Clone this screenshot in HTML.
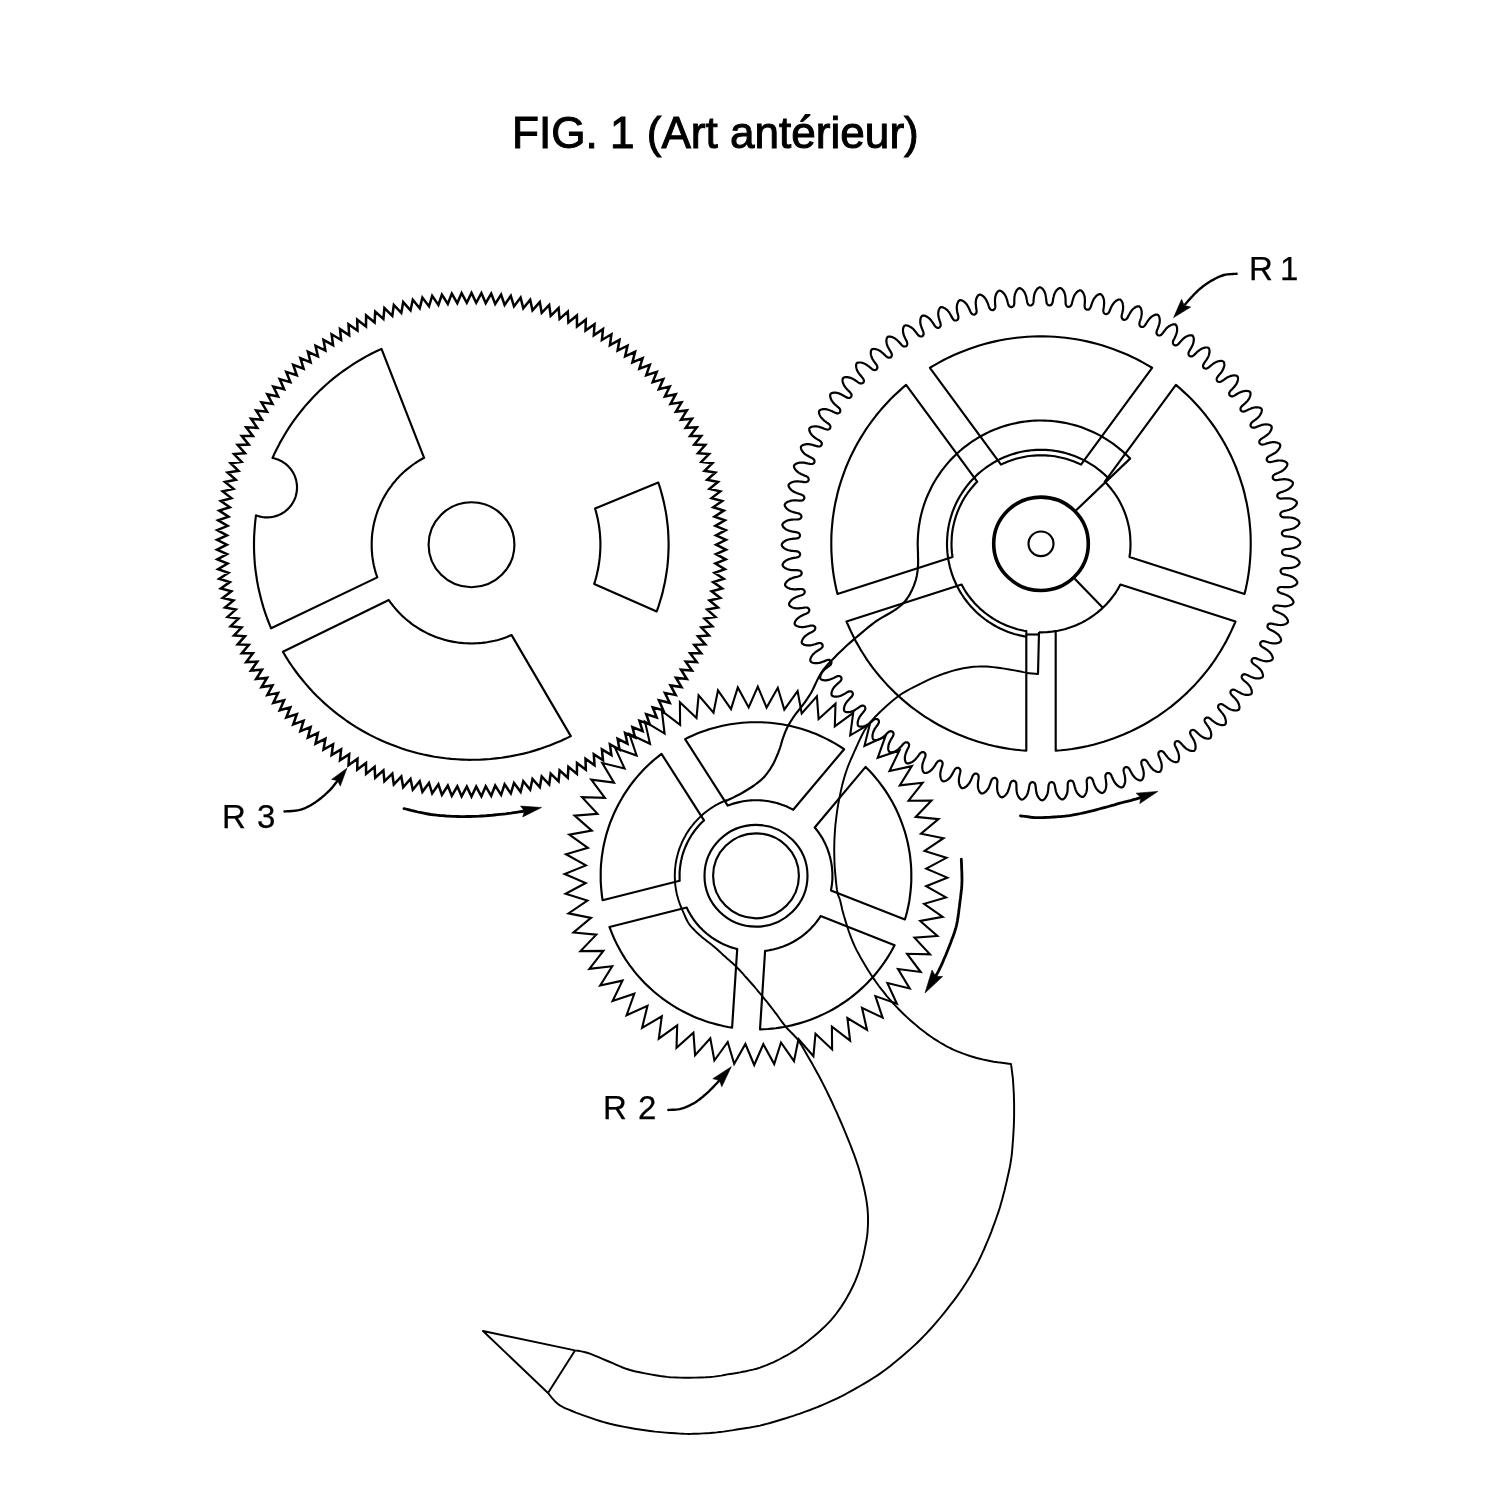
<!DOCTYPE html>
<html><head><meta charset="utf-8"><title>FIG. 1</title>
<style>
html,body{margin:0;padding:0;background:#fff;}
body{width:1500px;height:1500px;position:relative;overflow:hidden;font-family:"Liberation Sans",sans-serif;color:#000;}
svg{position:absolute;left:0;top:0;}
.t{position:absolute;white-space:nowrap;line-height:1;will-change:transform;}
.l{font-size:33px;-webkit-text-stroke:0.25px #000;}
</style></head><body>
<svg width="1500" height="1500" viewBox="0 0 1500 1500" fill="none" stroke="#000" stroke-linejoin="round" stroke-linecap="butt">
<path d="M471.5 292.9L476.2 302.8L481.4 293.1L485.7 303.1L491.2 293.6L495.2 303.9L501.1 294.6L504.6 305.0L510.8 295.9L514.0 306.4L520.6 297.6L523.3 308.2L530.2 299.7L532.5 310.4L539.8 302.1L541.7 312.9L549.2 304.9L550.7 315.8L558.6 308.1L559.6 319.0L567.8 311.6L568.4 322.5L576.9 315.5L577.0 326.4L585.8 319.7L585.5 330.6L594.5 324.2L593.8 335.2L603.0 329.1L601.9 340.0L611.4 334.3L609.9 345.2L619.5 339.8L617.6 350.6L627.5 345.7L625.1 356.4L635.1 351.8L632.4 362.4L642.6 358.2L639.4 368.7L649.8 364.9L646.2 375.3L656.7 371.9L652.7 382.1L663.3 379.1L658.9 389.2L669.7 386.6L664.9 396.5L675.7 394.3L670.5 404.0L681.5 402.3L675.9 411.7L686.9 410.4L681.0 419.7L692.0 418.8L685.7 427.8L696.8 427.3L690.1 436.1L701.2 436.1L694.2 444.6L705.3 445.0L698.0 453.2L709.0 454.0L701.4 461.9L712.4 463.2L704.5 470.8L715.4 472.5L707.2 479.8L718.0 481.9L709.5 488.9L720.3 491.4L711.6 498.1L722.2 501.0L713.2 507.3L723.8 510.6L714.5 516.6L724.9 520.3L715.4 525.9L725.7 530.1L716.0 535.3L726.0 539.8L716.1 544.7L726.0 549.6L716.0 554.1L725.7 559.3L715.4 563.5L724.9 569.1L714.5 572.8L723.8 578.8L713.2 582.1L722.2 588.4L711.6 591.3L720.3 598.0L709.5 600.5L718.0 607.5L707.2 609.6L715.4 616.9L704.5 618.6L712.4 626.2L701.4 627.5L709.0 635.4L698.0 636.2L705.3 644.4L694.2 644.8L701.2 653.3L690.1 653.3L696.8 662.1L685.7 661.6L692.0 670.6L681.0 669.7L686.9 679.0L675.9 677.7L681.5 687.1L670.5 685.4L675.7 695.1L664.9 692.9L669.7 702.8L658.9 700.2L663.3 710.3L652.7 707.3L656.7 717.5L646.2 714.1L649.8 724.5L639.4 720.7L642.6 731.2L632.4 727.0L635.1 737.6L625.1 733.0L627.5 743.7L617.6 738.8L619.5 749.6L609.9 744.2L611.4 755.1L601.9 749.4L603.0 760.3L593.8 754.2L594.5 765.2L585.5 758.8L585.8 769.7L577.0 763.0L576.9 773.9L568.4 766.9L567.8 777.8L559.6 770.4L558.6 781.3L550.7 773.6L549.2 784.5L541.7 776.5L539.8 787.3L532.5 779.0L530.2 789.7L523.3 781.2L520.6 791.8L514.0 783.0L510.8 793.5L504.6 784.4L501.1 794.8L495.2 785.5L491.2 795.8L485.7 786.3L481.4 796.3L476.2 786.6L471.5 796.5L466.8 786.6L461.6 796.3L457.3 786.3L451.8 795.8L447.8 785.5L441.9 794.8L438.4 784.4L432.2 793.5L429.0 783.0L422.4 791.8L419.7 781.2L412.8 789.7L410.5 779.0L403.2 787.3L401.3 776.5L393.8 784.5L392.3 773.6L384.4 781.3L383.4 770.4L375.2 777.8L374.6 766.9L366.1 773.9L366.0 763.0L357.2 769.7L357.5 758.8L348.5 765.2L349.2 754.2L340.0 760.3L341.1 749.4L331.6 755.1L333.1 744.2L323.5 749.6L325.4 738.8L315.5 743.7L317.9 733.0L307.9 737.6L310.6 727.0L300.4 731.2L303.6 720.7L293.2 724.5L296.8 714.1L286.3 717.5L290.3 707.3L279.7 710.3L284.1 700.2L273.3 702.8L278.1 692.9L267.3 695.1L272.5 685.4L261.5 687.1L267.1 677.7L256.1 679.0L262.0 669.7L251.0 670.6L257.3 661.6L246.2 662.1L252.9 653.3L241.8 653.3L248.8 644.8L237.7 644.4L245.0 636.2L234.0 635.4L241.6 627.5L230.6 626.2L238.5 618.6L227.6 616.9L235.8 609.6L225.0 607.5L233.5 600.5L222.7 598.0L231.4 591.3L220.8 588.4L229.8 582.1L219.2 578.8L228.5 572.8L218.1 569.1L227.6 563.5L217.3 559.3L227.0 554.1L217.0 549.6L226.9 544.7L217.0 539.8L227.0 535.3L217.3 530.1L227.6 525.9L218.1 520.3L228.5 516.6L219.2 510.6L229.8 507.3L220.8 501.0L231.4 498.1L222.7 491.4L233.5 488.9L225.0 481.9L235.8 479.8L227.6 472.5L238.5 470.8L230.6 463.2L241.6 461.9L234.0 454.0L245.0 453.2L237.7 445.0L248.8 444.6L241.8 436.1L252.9 436.1L246.2 427.3L257.3 427.8L251.0 418.8L262.0 419.7L256.1 410.4L267.1 411.7L261.5 402.3L272.5 404.0L267.3 394.3L278.1 396.5L273.3 386.6L284.1 389.2L279.7 379.1L290.3 382.1L286.3 371.9L296.8 375.3L293.2 364.9L303.6 368.7L300.4 358.2L310.6 362.4L307.9 351.8L317.9 356.4L315.5 345.7L325.4 350.6L323.5 339.8L333.1 345.2L331.6 334.3L341.1 340.0L340.0 329.1L349.2 335.2L348.5 324.2L357.5 330.6L357.2 319.7L366.0 326.4L366.1 315.5L374.6 322.5L375.2 311.6L383.4 319.0L384.4 308.1L392.3 315.8L393.8 304.9L401.3 312.9L403.2 302.1L410.5 310.4L412.8 299.7L419.7 308.2L422.4 297.6L429.0 306.4L432.2 295.9L438.4 305.0L441.9 294.6L447.8 303.9L451.8 293.6L457.3 303.1L461.6 293.1L466.8 302.8Z" stroke-width="2.50" stroke-linejoin="miter"/>
<ellipse cx="471.5" cy="544.7" rx="42.9" ry="42.5" stroke-width="2.15"/>
<path d="M381.5 348.9L376.4 351.3L371.3 353.8L366.3 356.4L361.4 359.2L356.5 362.1L351.8 365.1L347.1 368.3L342.5 371.5L338.0 374.9L333.5 378.4L329.2 382.0L325.0 385.7L320.8 389.6L316.8 393.5L312.9 397.5L309.1 401.7L305.3 405.9L301.8 410.2L298.3 414.6L294.9 419.1L291.7 423.7L288.5 428.4L285.5 433.2L282.7 438.0L279.9 442.9L277.3 447.9L274.8 452.9L272.5 458.0L272.5 458.0L273.3 458.2L274.0 458.3L274.8 458.5L275.5 458.7L276.3 459.0L277.0 459.2L277.8 459.5L278.5 459.8L279.2 460.1L279.9 460.4L280.6 460.8L281.3 461.1L282.0 461.5L282.7 461.9L283.3 462.3L284.0 462.8L284.6 463.2L285.3 463.7L285.9 464.2L286.5 464.7L287.1 465.2L287.6 465.7L288.2 466.2L288.7 466.8L289.3 467.4L289.8 468.0L290.3 468.6L290.8 469.2L291.3 469.8L291.7 470.4L292.1 471.1L292.6 471.8L293.0 472.4L293.3 473.1L293.7 473.8L294.1 474.5L294.4 475.2L294.7 475.9L295.0 476.7L295.3 477.4L295.5 478.1L295.7 478.9L296.0 479.6L296.2 480.4L296.3 481.2L296.5 481.9L296.6 482.7L296.7 483.5L296.8 484.2L296.9 485.0L297.0 485.8L297.0 486.6L297.0 487.4L297.0 488.2L297.0 488.9L296.9 489.7L296.8 490.5L296.8 491.3L296.6 492.0L296.5 492.8L296.4 493.6L296.2 494.4L296.0 495.1L295.8 495.9L295.6 496.6L295.3 497.4L295.1 498.1L294.8 498.8L294.5 499.5L294.1 500.3L293.8 501.0L293.4 501.6L293.0 502.3L292.7 503.0L292.2 503.7L291.8 504.3L291.4 505.0L290.9 505.6L290.4 506.2L289.9 506.8L289.4 507.4L288.9 508.0L288.3 508.5L287.8 509.1L287.2 509.6L286.6 510.1L286.0 510.7L285.4 511.1L284.8 511.6L284.1 512.1L283.5 512.5L282.8 512.9L282.2 513.3L281.5 513.7L280.8 514.1L280.1 514.4L279.4 514.8L278.7 515.1L277.9 515.4L277.2 515.6L276.5 515.9L275.7 516.1L275.0 516.4L274.2 516.5L273.4 516.7L272.7 516.9L271.9 517.0L271.1 517.1L270.4 517.2L269.6 517.3L268.8 517.4L268.0 517.4L267.2 517.4L266.4 517.4L265.7 517.4L264.9 517.3L264.1 517.3L263.3 517.2L262.5 517.1L261.8 517.0L261.0 516.8L260.2 516.6L259.5 516.4L258.7 516.2L258.0 516.0L257.2 515.8L256.5 515.5L256.0 515.4L255.3 520.9L254.8 526.3L254.4 531.8L254.1 537.3L254.0 542.8L254.0 548.3L254.2 553.7L254.5 559.2L254.9 564.7L255.5 570.1L256.3 575.6L257.1 581.0L258.1 586.4L259.3 591.7L260.6 597.1L262.0 602.4L263.5 607.6L265.2 612.9L267.0 618.0L269.0 623.2L271.1 628.3L377.3 577.4L376.5 575.0L375.7 572.6L375.0 570.1L374.4 567.7L373.8 565.2L373.3 562.7L372.9 560.2L372.5 557.7L372.2 555.2L372.0 552.6L371.8 550.1L371.7 547.6L371.7 545.0L371.7 542.5L371.8 539.9L371.9 537.4L372.1 534.9L372.4 532.4L372.8 529.8L373.2 527.3L373.7 524.8L374.2 522.4L374.9 519.9L375.5 517.4L376.3 515.0L377.1 512.6L377.9 510.2L378.9 507.8L379.9 505.5L380.9 503.2L382.0 500.9L383.2 498.6L384.4 496.4L385.7 494.2L387.0 492.0L388.4 489.9L389.9 487.8L391.4 485.8L392.9 483.7L394.6 481.8L396.2 479.8L397.9 477.9L399.7 476.1L401.5 474.3L403.3 472.5L405.2 470.8L407.2 469.2L409.2 467.6L411.2 466.0L413.3 464.5L415.4 463.0L417.5 461.6L419.7 460.3L421.9 459.0L424.1 457.8Z" stroke-width="2.15" />
<path d="M388.8 600.0L390.2 602.1L391.8 604.1L393.3 606.1L395.0 608.1L396.6 610.0L398.4 611.9L400.1 613.8L401.9 615.6L403.8 617.3L405.7 619.0L407.7 620.6L409.7 622.2L411.7 623.8L413.8 625.3L415.9 626.7L418.1 628.1L420.3 629.5L422.5 630.7L424.7 631.9L427.0 633.1L429.3 634.2L431.7 635.3L434.0 636.2L436.4 637.2L438.9 638.0L441.3 638.8L443.8 639.6L446.2 640.2L448.7 640.9L451.2 641.4L453.8 641.9L456.3 642.3L458.8 642.7L461.4 642.9L464.0 643.2L466.5 643.3L469.1 643.4L471.7 643.5L474.2 643.4L476.8 643.3L479.4 643.1L481.9 642.9L484.5 642.6L487.0 642.3L489.5 641.8L492.1 641.3L494.6 640.8L497.1 640.2L499.5 639.5L502.0 638.7L504.4 637.9L506.9 637.1L509.2 636.1L511.6 635.1L570.8 736.1L565.8 738.6L560.7 740.9L555.5 743.1L550.3 745.2L545.1 747.1L539.8 748.9L534.4 750.6L529.0 752.2L523.6 753.6L518.1 754.8L512.6 755.9L507.1 756.9L501.5 757.8L495.9 758.4L490.4 759.0L484.8 759.4L479.1 759.7L473.5 759.8L467.9 759.8L462.3 759.6L456.7 759.3L451.1 758.9L445.5 758.3L439.9 757.5L434.4 756.7L428.9 755.6L423.4 754.5L417.9 753.2L412.5 751.7L407.1 750.2L401.8 748.5L396.5 746.6L391.2 744.6L386.0 742.5L380.9 740.3L375.8 737.9L370.8 735.4L365.9 732.7L361.0 730.0L356.2 727.1L351.5 724.1L346.8 721.0L342.3 717.7L337.8 714.4L333.4 710.9L329.1 707.3L324.9 703.6L320.8 699.8L316.8 695.9L312.9 691.9L309.1 687.8L305.5 683.6L301.9 679.3L298.4 675.0L295.1 670.5L291.9 666.0L288.7 661.3L285.8 656.6L282.9 651.8Z" stroke-width="2.15" />
<path d="M594.2 583.9L595.2 580.7L596.1 577.5L596.9 574.3L597.6 571.0L598.3 567.8L598.8 564.5L599.3 561.2L599.7 557.9L600.0 554.6L600.2 551.2L600.4 547.9L600.4 544.6L600.4 541.3L600.2 537.9L600.0 534.6L599.7 531.3L599.3 528.0L598.8 524.7L598.2 521.4L597.6 518.2L596.8 514.9L596.0 511.7L595.1 508.5L658.3 482.5L659.9 487.3L661.3 492.2L662.6 497.1L663.8 502.0L664.8 506.9L665.8 511.9L666.6 516.9L667.2 521.9L667.8 526.9L668.2 531.9L668.4 537.0L668.6 542.0L668.6 547.1L668.4 552.1L668.2 557.2L667.8 562.2L667.3 567.2L666.6 572.2L665.8 577.2L664.9 582.2L663.8 587.1L662.7 592.1L661.4 596.9L659.9 601.8L658.4 606.6L656.7 611.4Z" stroke-width="2.15" />
<path d="M1030.5 305.5L1031.1 305.4L1031.7 305.1L1032.2 304.8L1032.6 304.4L1032.9 303.9L1033.1 303.4L1033.3 302.8L1033.4 302.2L1033.5 301.5L1033.6 300.7L1033.6 299.9L1033.7 299.0L1033.8 298.0L1033.9 296.9L1034.1 296.0L1034.2 295.1L1034.4 294.3L1034.7 293.5L1034.9 292.7L1035.2 292.0L1035.6 291.4L1036.0 290.7L1036.4 290.0L1036.9 289.3L1037.3 288.8L1037.9 288.3L1038.4 287.9L1038.9 287.6L1039.4 287.4L1039.9 287.3L1040.4 287.4L1040.9 287.6L1041.4 287.9L1041.9 288.3L1042.4 288.8L1042.9 289.3L1043.4 289.9L1043.8 290.6L1044.2 291.3L1044.6 292.0L1044.9 292.7L1045.1 293.4L1045.4 294.2L1045.6 295.0L1045.7 295.9L1045.9 296.9L1046.0 297.9L1046.2 298.9L1046.2 299.8L1046.3 300.6L1046.4 301.4L1046.5 302.1L1046.6 302.7L1046.8 303.3L1047.0 303.8L1047.3 304.3L1047.7 304.7L1048.2 305.1L1048.8 305.3L1049.4 305.5L1050.0 305.4L1050.7 305.1L1051.2 304.8L1051.6 304.5L1051.9 304.0L1052.2 303.5L1052.4 302.9L1052.6 302.3L1052.7 301.6L1052.9 300.9L1053.0 300.0L1053.1 299.1L1053.3 298.2L1053.5 297.2L1053.8 296.2L1054.0 295.3L1054.3 294.5L1054.5 293.7L1054.9 293.0L1055.2 292.4L1055.6 291.7L1056.1 291.0L1056.5 290.4L1057.1 289.8L1057.6 289.3L1058.1 288.9L1058.7 288.5L1059.2 288.2L1059.7 288.1L1060.2 288.0L1060.7 288.1L1061.2 288.4L1061.7 288.7L1062.2 289.2L1062.6 289.7L1063.1 290.2L1063.5 290.9L1063.9 291.6L1064.2 292.3L1064.5 293.0L1064.8 293.8L1065.0 294.5L1065.1 295.3L1065.3 296.2L1065.4 297.0L1065.5 298.0L1065.5 299.1L1065.6 300.1L1065.6 301.0L1065.6 301.8L1065.6 302.6L1065.6 303.3L1065.7 303.9L1065.8 304.5L1066.0 305.0L1066.3 305.5L1066.6 306.0L1067.1 306.4L1067.7 306.7L1068.3 306.9L1068.9 306.8L1069.6 306.6L1070.1 306.4L1070.6 306.0L1070.9 305.6L1071.2 305.1L1071.5 304.6L1071.7 303.9L1071.9 303.3L1072.1 302.5L1072.3 301.7L1072.5 300.8L1072.8 299.9L1073.1 298.9L1073.4 297.9L1073.7 297.1L1074.0 296.3L1074.3 295.6L1074.7 294.9L1075.1 294.2L1075.6 293.6L1076.1 293.0L1076.6 292.4L1077.2 291.8L1077.7 291.4L1078.3 291.0L1078.9 290.7L1079.4 290.4L1079.9 290.3L1080.4 290.3L1080.9 290.5L1081.4 290.7L1081.8 291.1L1082.3 291.6L1082.7 292.1L1083.1 292.7L1083.5 293.4L1083.8 294.2L1084.1 294.9L1084.3 295.6L1084.5 296.4L1084.7 297.1L1084.8 298.0L1084.8 298.8L1084.9 299.7L1084.9 300.7L1084.9 301.7L1084.8 302.7L1084.8 303.6L1084.7 304.4L1084.6 305.2L1084.6 305.9L1084.7 306.6L1084.7 307.2L1084.9 307.7L1085.1 308.2L1085.4 308.7L1085.9 309.1L1086.4 309.5L1087.0 309.7L1087.6 309.7L1088.3 309.6L1088.9 309.4L1089.3 309.0L1089.7 308.6L1090.1 308.2L1090.4 307.7L1090.6 307.1L1090.9 306.4L1091.2 305.7L1091.4 304.9L1091.7 304.0L1092.0 303.1L1092.4 302.1L1092.8 301.2L1093.1 300.4L1093.5 299.6L1093.9 298.9L1094.4 298.3L1094.8 297.7L1095.3 297.1L1095.8 296.5L1096.4 295.9L1097.0 295.4L1097.6 295.0L1098.2 294.6L1098.8 294.4L1099.4 294.2L1099.9 294.1L1100.4 294.1L1100.9 294.3L1101.3 294.7L1101.8 295.1L1102.2 295.6L1102.6 296.1L1102.9 296.8L1103.2 297.5L1103.5 298.3L1103.7 299.0L1103.9 299.8L1104.0 300.5L1104.1 301.3L1104.1 302.1L1104.1 303.0L1104.1 303.9L1104.0 304.8L1103.9 305.9L1103.8 306.9L1103.7 307.7L1103.5 308.6L1103.4 309.3L1103.4 310.0L1103.3 310.7L1103.4 311.3L1103.5 311.8L1103.7 312.4L1103.9 312.9L1104.3 313.3L1104.9 313.7L1105.4 314.0L1106.1 314.1L1106.7 314.0L1107.3 313.8L1107.8 313.5L1108.2 313.1L1108.6 312.7L1109.0 312.2L1109.3 311.7L1109.6 311.0L1109.9 310.3L1110.2 309.5L1110.5 308.7L1110.9 307.8L1111.4 306.9L1111.8 306.0L1112.3 305.2L1112.7 304.5L1113.2 303.8L1113.7 303.2L1114.2 302.6L1114.7 302.0L1115.3 301.5L1115.9 301.0L1116.6 300.5L1117.2 300.2L1117.8 299.9L1118.4 299.6L1119.0 299.5L1119.6 299.5L1120.1 299.5L1120.5 299.8L1120.9 300.1L1121.3 300.6L1121.7 301.1L1122.0 301.7L1122.3 302.3L1122.6 303.1L1122.8 303.9L1122.9 304.7L1123.1 305.4L1123.1 306.2L1123.1 306.9L1123.1 307.8L1123.1 308.6L1123.0 309.5L1122.8 310.5L1122.6 311.5L1122.4 312.5L1122.2 313.3L1122.0 314.1L1121.8 314.9L1121.7 315.6L1121.6 316.2L1121.6 316.8L1121.7 317.4L1121.8 318.0L1122.1 318.5L1122.4 318.9L1122.9 319.4L1123.5 319.7L1124.1 319.8L1124.7 319.8L1125.4 319.6L1125.9 319.4L1126.3 319.1L1126.7 318.7L1127.1 318.2L1127.5 317.7L1127.8 317.1L1128.2 316.4L1128.6 315.6L1129.0 314.8L1129.5 314.0L1130.0 313.1L1130.5 312.2L1131.0 311.5L1131.5 310.8L1132.0 310.1L1132.5 309.5L1133.1 309.0L1133.7 308.5L1134.3 308.0L1135.0 307.5L1135.6 307.1L1136.3 306.8L1136.9 306.6L1137.6 306.4L1138.1 306.3L1138.7 306.3L1139.2 306.4L1139.6 306.7L1140.0 307.1L1140.4 307.5L1140.7 308.1L1141.0 308.7L1141.2 309.4L1141.4 310.2L1141.6 311.0L1141.7 311.8L1141.7 312.5L1141.7 313.3L1141.7 314.0L1141.6 314.9L1141.5 315.7L1141.3 316.6L1141.1 317.5L1140.8 318.6L1140.5 319.5L1140.2 320.4L1140.0 321.1L1139.7 321.9L1139.6 322.6L1139.4 323.2L1139.4 323.8L1139.4 324.4L1139.5 324.9L1139.7 325.4L1140.0 326.0L1140.5 326.4L1141.0 326.8L1141.6 327.0L1142.3 327.0L1142.9 326.9L1143.4 326.7L1143.9 326.4L1144.3 326.0L1144.8 325.6L1145.1 325.1L1145.6 324.5L1146.0 323.8L1146.4 323.1L1146.9 322.4L1147.4 321.5L1148.0 320.7L1148.6 319.9L1149.1 319.2L1149.7 318.5L1150.3 317.9L1150.8 317.4L1151.4 316.9L1152.0 316.4L1152.7 316.0L1153.4 315.6L1154.1 315.2L1154.8 314.9L1155.5 314.8L1156.1 314.6L1156.7 314.6L1157.2 314.6L1157.7 314.8L1158.1 315.1L1158.5 315.5L1158.8 316.0L1159.1 316.5L1159.3 317.2L1159.5 317.9L1159.6 318.7L1159.7 319.5L1159.8 320.3L1159.7 321.0L1159.7 321.8L1159.6 322.6L1159.5 323.4L1159.2 324.2L1159.0 325.1L1158.7 326.0L1158.3 327.0L1158.0 327.9L1157.7 328.7L1157.3 329.5L1157.0 330.2L1156.8 330.9L1156.6 331.5L1156.5 332.1L1156.5 332.7L1156.5 333.2L1156.7 333.8L1157.0 334.3L1157.4 334.8L1157.9 335.2L1158.5 335.4L1159.1 335.5L1159.8 335.5L1160.3 335.3L1160.8 335.0L1161.3 334.7L1161.7 334.3L1162.2 333.8L1162.6 333.3L1163.1 332.7L1163.6 332.0L1164.1 331.3L1164.7 330.5L1165.4 329.7L1166.0 328.9L1166.6 328.2L1167.2 327.6L1167.8 327.1L1168.5 326.6L1169.1 326.1L1169.7 325.7L1170.4 325.4L1171.2 325.0L1171.9 324.7L1172.6 324.5L1173.3 324.3L1173.9 324.3L1174.5 324.3L1175.1 324.3L1175.5 324.5L1175.9 324.9L1176.2 325.3L1176.5 325.8L1176.7 326.4L1176.9 327.1L1177.1 327.8L1177.1 328.6L1177.1 329.4L1177.1 330.2L1177.1 330.9L1176.9 331.7L1176.8 332.4L1176.6 333.2L1176.3 334.0L1176.0 334.9L1175.6 335.8L1175.2 336.8L1174.8 337.7L1174.4 338.5L1174.0 339.2L1173.6 339.9L1173.4 340.5L1173.1 341.1L1173.0 341.7L1172.9 342.3L1172.9 342.9L1173.0 343.4L1173.3 344.0L1173.6 344.5L1174.1 344.9L1174.7 345.2L1175.3 345.3L1175.9 345.3L1176.5 345.2L1177.0 345.0L1177.5 344.7L1178.0 344.3L1178.5 343.9L1179.0 343.4L1179.5 342.8L1180.0 342.1L1180.6 341.5L1181.3 340.7L1182.0 340.0L1182.7 339.3L1183.3 338.7L1184.0 338.1L1184.6 337.6L1185.3 337.1L1185.9 336.8L1186.6 336.4L1187.4 336.1L1188.1 335.8L1188.9 335.5L1189.6 335.4L1190.3 335.3L1190.9 335.3L1191.5 335.3L1192.1 335.4L1192.5 335.6L1192.9 336.0L1193.1 336.5L1193.4 337.0L1193.6 337.6L1193.7 338.3L1193.8 339.0L1193.8 339.8L1193.7 340.6L1193.6 341.4L1193.5 342.2L1193.4 342.9L1193.1 343.6L1192.9 344.4L1192.5 345.2L1192.1 346.0L1191.7 346.9L1191.2 347.8L1190.7 348.7L1190.2 349.4L1189.8 350.1L1189.4 350.8L1189.1 351.4L1188.8 352.0L1188.6 352.6L1188.5 353.2L1188.4 353.7L1188.5 354.3L1188.7 354.8L1189.0 355.4L1189.4 355.9L1190.0 356.2L1190.6 356.3L1191.3 356.4L1191.8 356.3L1192.4 356.2L1192.9 355.9L1193.4 355.6L1193.9 355.2L1194.4 354.7L1195.0 354.2L1195.6 353.6L1196.2 352.9L1196.9 352.2L1197.7 351.5L1198.5 350.9L1199.2 350.3L1199.9 349.8L1200.6 349.4L1201.2 349.0L1201.9 348.6L1202.6 348.3L1203.4 348.1L1204.2 347.8L1204.9 347.6L1205.7 347.5L1206.4 347.5L1207.0 347.5L1207.6 347.6L1208.1 347.8L1208.6 348.0L1208.9 348.4L1209.1 348.9L1209.3 349.5L1209.4 350.1L1209.5 350.8L1209.5 351.5L1209.5 352.3L1209.4 353.1L1209.2 353.9L1209.0 354.6L1208.8 355.3L1208.5 356.1L1208.2 356.8L1207.8 357.6L1207.4 358.4L1206.9 359.2L1206.3 360.1L1205.7 360.9L1205.2 361.6L1204.7 362.3L1204.2 362.9L1203.9 363.5L1203.6 364.1L1203.3 364.6L1203.1 365.2L1203.1 365.7L1203.1 366.3L1203.2 366.9L1203.5 367.5L1203.9 368.0L1204.4 368.3L1205.0 368.5L1205.7 368.6L1206.2 368.6L1206.8 368.5L1207.3 368.3L1207.9 368.0L1208.4 367.6L1209.0 367.2L1209.6 366.7L1210.2 366.1L1210.9 365.6L1211.6 364.9L1212.5 364.3L1213.3 363.7L1214.0 363.2L1214.8 362.8L1215.5 362.4L1216.2 362.0L1216.9 361.7L1217.6 361.5L1218.4 361.3L1219.2 361.1L1220.0 361.0L1220.7 360.9L1221.4 360.9L1222.1 361.0L1222.6 361.2L1223.1 361.4L1223.6 361.7L1223.9 362.1L1224.1 362.6L1224.2 363.1L1224.3 363.8L1224.3 364.5L1224.3 365.2L1224.2 365.9L1224.0 366.7L1223.8 367.5L1223.5 368.2L1223.3 368.9L1222.9 369.6L1222.5 370.4L1222.1 371.1L1221.6 371.8L1221.0 372.6L1220.3 373.5L1219.7 374.2L1219.1 374.9L1218.6 375.6L1218.1 376.1L1217.7 376.7L1217.3 377.2L1217.0 377.8L1216.8 378.3L1216.7 378.9L1216.7 379.4L1216.8 380.0L1217.0 380.6L1217.3 381.2L1217.8 381.5L1218.4 381.8L1219.0 382.0L1219.6 382.0L1220.2 381.9L1220.7 381.7L1221.3 381.5L1221.8 381.1L1222.4 380.8L1223.1 380.3L1223.8 379.8L1224.5 379.3L1225.3 378.7L1226.2 378.2L1227.0 377.6L1227.8 377.2L1228.6 376.8L1229.4 376.5L1230.1 376.2L1230.8 375.9L1231.6 375.8L1232.3 375.6L1233.2 375.5L1233.9 375.4L1234.7 375.4L1235.4 375.5L1236.0 375.6L1236.6 375.8L1237.1 376.1L1237.5 376.4L1237.7 376.8L1237.9 377.3L1238.0 377.9L1238.0 378.5L1238.0 379.2L1237.9 379.9L1237.7 380.7L1237.5 381.5L1237.2 382.2L1236.9 382.9L1236.6 383.6L1236.2 384.3L1235.7 385.0L1235.2 385.7L1234.7 386.4L1234.0 387.1L1233.3 387.9L1232.6 388.6L1232.0 389.3L1231.4 389.9L1230.8 390.4L1230.4 390.9L1230.0 391.4L1229.7 392.0L1229.4 392.5L1229.2 393.0L1229.2 393.6L1229.2 394.2L1229.4 394.8L1229.7 395.3L1230.2 395.8L1230.7 396.1L1231.3 396.3L1231.9 396.3L1232.5 396.3L1233.0 396.2L1233.6 396.0L1234.2 395.7L1234.8 395.3L1235.5 395.0L1236.2 394.5L1237.0 394.0L1237.8 393.5L1238.8 393.0L1239.6 392.6L1240.5 392.2L1241.3 391.9L1242.0 391.6L1242.8 391.4L1243.5 391.2L1244.3 391.1L1245.1 391.0L1245.9 390.9L1246.7 390.9L1247.4 391.0L1248.1 391.1L1248.7 391.3L1249.3 391.5L1249.8 391.8L1250.1 392.1L1250.4 392.6L1250.5 393.1L1250.5 393.7L1250.5 394.3L1250.4 395.0L1250.3 395.7L1250.0 396.5L1249.7 397.2L1249.4 398.0L1249.1 398.6L1248.7 399.3L1248.2 399.9L1247.7 400.6L1247.2 401.2L1246.5 401.9L1245.8 402.6L1245.1 403.3L1244.3 404.0L1243.7 404.6L1243.0 405.1L1242.4 405.6L1241.9 406.1L1241.5 406.6L1241.1 407.1L1240.8 407.6L1240.6 408.1L1240.5 408.6L1240.5 409.2L1240.6 409.9L1240.9 410.4L1241.3 410.9L1241.9 411.3L1242.5 411.5L1243.0 411.6L1243.6 411.6L1244.2 411.5L1244.7 411.4L1245.3 411.1L1246.0 410.8L1246.7 410.5L1247.4 410.1L1248.2 409.7L1249.1 409.3L1250.1 408.9L1251.0 408.5L1251.9 408.1L1252.7 407.9L1253.5 407.7L1254.3 407.5L1255.0 407.4L1255.8 407.3L1256.6 407.3L1257.4 407.3L1258.2 407.4L1258.9 407.5L1259.6 407.7L1260.2 407.9L1260.7 408.1L1261.2 408.5L1261.5 408.8L1261.7 409.3L1261.8 409.8L1261.8 410.4L1261.7 411.1L1261.6 411.7L1261.4 412.4L1261.1 413.1L1260.7 413.9L1260.3 414.6L1259.9 415.2L1259.5 415.8L1259.0 416.5L1258.4 417.1L1257.8 417.7L1257.2 418.3L1256.4 418.9L1255.6 419.6L1254.8 420.2L1254.1 420.7L1253.4 421.2L1252.8 421.7L1252.2 422.1L1251.7 422.6L1251.3 423.0L1251.0 423.5L1250.8 424.0L1250.6 424.5L1250.6 425.1L1250.6 425.8L1250.9 426.4L1251.3 426.8L1251.8 427.2L1252.3 427.5L1252.9 427.7L1253.4 427.7L1254.0 427.7L1254.6 427.6L1255.2 427.4L1255.9 427.2L1256.6 426.9L1257.4 426.5L1258.2 426.2L1259.2 425.9L1260.2 425.5L1261.1 425.2L1262.0 424.9L1262.8 424.7L1263.6 424.6L1264.4 424.5L1265.2 424.4L1266.0 424.4L1266.8 424.4L1267.6 424.5L1268.4 424.6L1269.1 424.8L1269.7 425.0L1270.3 425.3L1270.8 425.6L1271.2 426.0L1271.5 426.4L1271.7 426.8L1271.7 427.4L1271.7 428.0L1271.6 428.6L1271.4 429.3L1271.1 429.9L1270.8 430.6L1270.4 431.3L1269.9 432.0L1269.5 432.6L1269.0 433.2L1268.4 433.8L1267.8 434.3L1267.2 434.9L1266.5 435.4L1265.7 436.0L1264.8 436.6L1264.0 437.2L1263.2 437.6L1262.5 438.1L1261.8 438.5L1261.2 438.9L1260.7 439.3L1260.3 439.7L1259.9 440.2L1259.6 440.6L1259.4 441.1L1259.3 441.8L1259.4 442.4L1259.5 443.0L1259.9 443.5L1260.4 444.0L1260.9 444.3L1261.4 444.5L1262.0 444.6L1262.6 444.6L1263.2 444.5L1263.8 444.4L1264.5 444.2L1265.2 444.0L1266.0 443.7L1266.9 443.4L1267.9 443.1L1268.9 442.9L1269.9 442.6L1270.7 442.4L1271.6 442.3L1272.4 442.2L1273.2 442.2L1274.0 442.2L1274.7 442.2L1275.5 442.3L1276.3 442.5L1277.1 442.6L1277.8 442.9L1278.4 443.2L1279.0 443.5L1279.5 443.8L1279.9 444.2L1280.1 444.6L1280.3 445.1L1280.3 445.6L1280.2 446.2L1280.0 446.8L1279.8 447.5L1279.4 448.1L1279.0 448.8L1278.6 449.5L1278.1 450.1L1277.6 450.7L1277.0 451.2L1276.5 451.8L1275.8 452.3L1275.1 452.8L1274.4 453.3L1273.5 453.8L1272.6 454.3L1271.7 454.8L1270.9 455.2L1270.2 455.6L1269.5 455.9L1268.9 456.3L1268.3 456.7L1267.9 457.0L1267.5 457.5L1267.1 457.9L1266.9 458.4L1266.8 459.0L1266.7 459.7L1266.8 460.3L1267.2 460.8L1267.6 461.3L1268.1 461.7L1268.6 461.9L1269.2 462.0L1269.8 462.1L1270.4 462.1L1271.0 462.0L1271.7 461.9L1272.5 461.7L1273.3 461.5L1274.2 461.3L1275.1 461.1L1276.2 460.9L1277.2 460.7L1278.1 460.6L1278.9 460.5L1279.8 460.5L1280.5 460.5L1281.3 460.6L1282.1 460.7L1282.9 460.8L1283.7 461.0L1284.4 461.3L1285.1 461.6L1285.7 461.9L1286.2 462.3L1286.7 462.6L1287.0 463.0L1287.3 463.5L1287.4 464.0L1287.3 464.5L1287.2 465.1L1287.0 465.7L1286.7 466.3L1286.3 466.9L1285.8 467.6L1285.3 468.2L1284.8 468.8L1284.2 469.3L1283.7 469.8L1283.0 470.3L1282.4 470.8L1281.6 471.2L1280.8 471.7L1279.9 472.1L1279.0 472.6L1278.1 473.0L1277.2 473.3L1276.5 473.6L1275.7 473.9L1275.1 474.3L1274.5 474.6L1274.0 474.9L1273.6 475.3L1273.2 475.7L1273.0 476.2L1272.8 476.8L1272.7 477.5L1272.8 478.1L1273.0 478.6L1273.5 479.1L1273.9 479.5L1274.4 479.8L1275.0 480.0L1275.5 480.1L1276.1 480.1L1276.8 480.1L1277.5 480.0L1278.3 479.9L1279.1 479.7L1280.0 479.6L1281.0 479.5L1282.0 479.4L1283.0 479.3L1283.9 479.2L1284.8 479.2L1285.6 479.3L1286.4 479.3L1287.2 479.5L1287.9 479.6L1288.7 479.9L1289.5 480.1L1290.2 480.4L1290.8 480.8L1291.4 481.1L1291.9 481.5L1292.4 481.9L1292.7 482.4L1292.9 482.8L1292.9 483.3L1292.8 483.9L1292.7 484.4L1292.4 485.0L1292.1 485.6L1291.6 486.2L1291.1 486.8L1290.6 487.4L1290.0 487.9L1289.4 488.4L1288.8 488.9L1288.1 489.3L1287.4 489.7L1286.6 490.1L1285.8 490.5L1284.9 490.9L1283.9 491.2L1283.0 491.6L1282.1 491.9L1281.3 492.1L1280.6 492.4L1279.9 492.6L1279.3 492.9L1278.8 493.2L1278.3 493.6L1277.9 494.0L1277.6 494.4L1277.4 495.0L1277.3 495.6L1277.3 496.3L1277.5 496.8L1277.9 497.4L1278.3 497.8L1278.8 498.1L1279.3 498.3L1279.9 498.5L1280.5 498.6L1281.1 498.6L1281.8 498.6L1282.6 498.5L1283.5 498.4L1284.4 498.4L1285.3 498.3L1286.4 498.3L1287.4 498.3L1288.3 498.3L1289.2 498.4L1290.0 498.5L1290.8 498.6L1291.5 498.8L1292.2 499.0L1293.0 499.3L1293.8 499.6L1294.5 500.0L1295.1 500.3L1295.6 500.8L1296.1 501.2L1296.5 501.6L1296.8 502.1L1296.9 502.6L1296.9 503.1L1296.8 503.6L1296.6 504.1L1296.3 504.7L1295.9 505.3L1295.4 505.8L1294.9 506.4L1294.3 506.9L1293.6 507.4L1293.0 507.9L1292.4 508.3L1291.7 508.7L1290.9 509.0L1290.1 509.3L1289.3 509.7L1288.3 510.0L1287.3 510.3L1286.4 510.5L1285.5 510.7L1284.7 510.9L1283.9 511.1L1283.2 511.3L1282.6 511.6L1282.1 511.8L1281.6 512.1L1281.1 512.5L1280.8 512.9L1280.5 513.5L1280.3 514.1L1280.3 514.7L1280.5 515.3L1280.8 515.9L1281.2 516.4L1281.7 516.7L1282.2 517.0L1282.7 517.1L1283.3 517.3L1284.0 517.3L1284.7 517.4L1285.5 517.4L1286.3 517.4L1287.2 517.4L1288.2 517.4L1289.3 517.5L1290.3 517.5L1291.2 517.6L1292.0 517.8L1292.8 517.9L1293.6 518.1L1294.3 518.4L1295.0 518.6L1295.8 519.0L1296.5 519.3L1297.2 519.8L1297.7 520.2L1298.3 520.7L1298.7 521.1L1299.0 521.6L1299.3 522.1L1299.4 522.6L1299.4 523.1L1299.2 523.6L1298.9 524.1L1298.6 524.6L1298.2 525.2L1297.7 525.7L1297.1 526.2L1296.4 526.7L1295.7 527.2L1295.1 527.5L1294.4 527.9L1293.7 528.2L1292.9 528.5L1292.1 528.8L1291.2 529.0L1290.3 529.3L1289.2 529.5L1288.2 529.7L1287.4 529.8L1286.5 529.9L1285.7 530.1L1285.1 530.2L1284.4 530.4L1283.9 530.6L1283.3 530.9L1282.9 531.2L1282.5 531.6L1282.2 532.2L1282.0 532.8L1281.9 533.4L1282.0 534.0L1282.3 534.6L1282.7 535.1L1283.1 535.5L1283.6 535.8L1284.1 536.0L1284.7 536.2L1285.3 536.3L1286.0 536.4L1286.8 536.4L1287.6 536.5L1288.5 536.6L1289.5 536.7L1290.6 536.8L1291.6 537.0L1292.5 537.1L1293.3 537.3L1294.1 537.5L1294.8 537.8L1295.5 538.1L1296.2 538.4L1296.9 538.8L1297.6 539.2L1298.3 539.7L1298.8 540.2L1299.3 540.7L1299.7 541.2L1300.0 541.7L1300.2 542.2L1300.3 542.7L1300.2 543.2L1300.0 543.7L1299.7 544.2L1299.3 544.7L1298.8 545.2L1298.3 545.7L1297.7 546.1L1297.0 546.6L1296.3 547.0L1295.6 547.3L1294.9 547.6L1294.2 547.9L1293.4 548.1L1292.5 548.3L1291.6 548.5L1290.6 548.6L1289.6 548.8L1288.6 548.9L1287.7 549.0L1286.9 549.0L1286.1 549.1L1285.4 549.2L1284.7 549.3L1284.2 549.5L1283.6 549.7L1283.1 550.0L1282.7 550.4L1282.4 550.9L1282.1 551.5L1282.0 552.1L1282.1 552.7L1282.3 553.3L1282.6 553.9L1283.0 554.3L1283.5 554.6L1284.0 554.9L1284.5 555.1L1285.2 555.3L1285.9 555.4L1286.6 555.5L1287.5 555.7L1288.4 555.8L1289.3 556.0L1290.4 556.2L1291.3 556.4L1292.2 556.7L1293.0 556.9L1293.8 557.2L1294.5 557.5L1295.2 557.9L1295.9 558.2L1296.6 558.7L1297.2 559.2L1297.8 559.7L1298.3 560.2L1298.8 560.7L1299.1 561.3L1299.4 561.8L1299.6 562.3L1299.6 562.8L1299.5 563.3L1299.2 563.8L1298.9 564.3L1298.5 564.7L1297.9 565.2L1297.4 565.6L1296.7 566.0L1296.0 566.4L1295.2 566.8L1294.5 567.1L1293.8 567.3L1293.0 567.5L1292.2 567.7L1291.4 567.8L1290.5 567.9L1289.5 568.0L1288.4 568.1L1287.4 568.1L1286.5 568.1L1285.7 568.1L1284.9 568.1L1284.2 568.2L1283.6 568.2L1283.0 568.4L1282.4 568.6L1281.9 568.8L1281.5 569.2L1281.1 569.6L1280.7 570.2L1280.6 570.8L1280.6 571.4L1280.8 572.0L1281.1 572.6L1281.4 573.0L1281.8 573.4L1282.3 573.7L1282.9 574.0L1283.5 574.2L1284.2 574.4L1284.9 574.6L1285.8 574.7L1286.6 575.0L1287.6 575.2L1288.6 575.5L1289.6 575.8L1290.4 576.1L1291.2 576.4L1292.0 576.8L1292.7 577.1L1293.3 577.5L1293.9 578.0L1294.6 578.5L1295.2 579.0L1295.8 579.6L1296.2 580.1L1296.6 580.7L1296.9 581.3L1297.2 581.8L1297.3 582.3L1297.3 582.8L1297.1 583.3L1296.9 583.8L1296.5 584.2L1296.0 584.6L1295.5 585.1L1294.8 585.5L1294.1 585.8L1293.4 586.1L1292.6 586.4L1291.9 586.7L1291.2 586.9L1290.4 587.0L1289.6 587.1L1288.7 587.2L1287.8 587.2L1286.8 587.2L1285.7 587.2L1284.7 587.1L1283.8 587.1L1283.0 587.0L1282.2 587.0L1281.5 587.0L1280.9 587.0L1280.3 587.1L1279.7 587.2L1279.2 587.4L1278.7 587.7L1278.3 588.2L1277.9 588.7L1277.7 589.3L1277.7 589.9L1277.8 590.6L1278.0 591.1L1278.4 591.6L1278.8 592.0L1279.2 592.3L1279.8 592.6L1280.3 592.9L1281.0 593.2L1281.7 593.4L1282.6 593.6L1283.4 593.9L1284.4 594.3L1285.3 594.6L1286.3 595.0L1287.1 595.4L1287.9 595.7L1288.6 596.1L1289.3 596.6L1289.9 597.0L1290.5 597.5L1291.1 598.0L1291.6 598.6L1292.1 599.2L1292.6 599.8L1292.9 600.4L1293.2 601.0L1293.4 601.5L1293.5 602.1L1293.4 602.6L1293.2 603.1L1292.9 603.5L1292.5 603.9L1292.0 604.3L1291.4 604.7L1290.7 605.0L1290.0 605.3L1289.3 605.6L1288.5 605.8L1287.7 606.0L1287.0 606.1L1286.2 606.2L1285.4 606.3L1284.5 606.3L1283.6 606.2L1282.6 606.1L1281.5 606.0L1280.6 605.9L1279.7 605.8L1278.8 605.7L1278.1 605.5L1277.4 605.5L1276.7 605.5L1276.1 605.5L1275.5 605.6L1275.0 605.8L1274.5 606.0L1274.0 606.5L1273.6 607.0L1273.3 607.5L1273.3 608.1L1273.4 608.8L1273.6 609.4L1273.8 609.9L1274.2 610.3L1274.6 610.7L1275.1 611.0L1275.7 611.3L1276.4 611.6L1277.1 611.9L1277.9 612.2L1278.7 612.6L1279.6 613.0L1280.6 613.4L1281.5 613.9L1282.2 614.3L1283.0 614.7L1283.7 615.2L1284.3 615.7L1284.9 616.2L1285.4 616.7L1286.0 617.3L1286.5 617.9L1287.0 618.5L1287.3 619.2L1287.6 619.8L1287.9 620.4L1288.0 621.0L1288.0 621.5L1288.0 622.0L1287.7 622.4L1287.4 622.8L1286.9 623.2L1286.4 623.6L1285.8 623.9L1285.1 624.2L1284.4 624.5L1283.6 624.7L1282.8 624.8L1282.0 625.0L1281.3 625.0L1280.5 625.1L1279.7 625.0L1278.8 625.0L1277.9 624.9L1276.9 624.7L1275.9 624.5L1274.9 624.3L1274.0 624.1L1273.2 623.9L1272.4 623.8L1271.7 623.6L1271.1 623.6L1270.5 623.6L1269.9 623.6L1269.3 623.7L1268.8 624.0L1268.3 624.3L1267.9 624.8L1267.6 625.4L1267.5 626.0L1267.5 626.6L1267.6 627.2L1267.9 627.7L1268.2 628.2L1268.6 628.6L1269.1 629.0L1269.6 629.3L1270.2 629.7L1270.9 630.0L1271.7 630.4L1272.5 630.8L1273.4 631.3L1274.3 631.8L1275.2 632.3L1275.9 632.8L1276.6 633.3L1277.3 633.8L1277.9 634.3L1278.4 634.9L1278.9 635.4L1279.4 636.1L1279.9 636.7L1280.3 637.4L1280.6 638.0L1280.8 638.7L1281.0 639.3L1281.1 639.9L1281.1 640.4L1281.0 640.9L1280.7 641.3L1280.4 641.7L1279.9 642.1L1279.3 642.4L1278.7 642.7L1278.0 642.9L1277.2 643.1L1276.4 643.3L1275.6 643.4L1274.9 643.4L1274.1 643.4L1273.3 643.4L1272.5 643.3L1271.6 643.2L1270.7 643.0L1269.8 642.8L1268.7 642.5L1267.8 642.2L1266.9 642.0L1266.1 641.7L1265.4 641.5L1264.7 641.3L1264.0 641.2L1263.4 641.1L1262.9 641.1L1262.3 641.2L1261.8 641.4L1261.2 641.7L1260.8 642.2L1260.4 642.7L1260.2 643.3L1260.2 644.0L1260.3 644.6L1260.5 645.1L1260.8 645.6L1261.2 646.0L1261.6 646.4L1262.1 646.8L1262.7 647.2L1263.4 647.6L1264.1 648.0L1264.9 648.5L1265.7 649.0L1266.6 649.6L1267.4 650.2L1268.1 650.8L1268.8 651.3L1269.4 651.9L1269.9 652.4L1270.4 653.0L1270.9 653.6L1271.3 654.3L1271.8 655.0L1272.1 655.7L1272.4 656.3L1272.6 657.0L1272.7 657.6L1272.8 658.2L1272.7 658.8L1272.6 659.2L1272.3 659.6L1271.8 660.0L1271.3 660.3L1270.8 660.6L1270.1 660.8L1269.4 661.0L1268.6 661.1L1267.8 661.2L1267.0 661.3L1266.2 661.3L1265.5 661.2L1264.7 661.1L1263.9 661.0L1263.0 660.8L1262.2 660.5L1261.2 660.2L1260.2 659.9L1259.3 659.5L1258.4 659.2L1257.7 658.9L1256.9 658.6L1256.3 658.4L1255.6 658.2L1255.0 658.1L1254.4 658.0L1253.9 658.1L1253.3 658.2L1252.8 658.5L1252.3 658.9L1251.9 659.4L1251.7 660.0L1251.6 660.7L1251.6 661.3L1251.8 661.8L1252.1 662.3L1252.4 662.8L1252.8 663.2L1253.3 663.7L1253.8 664.1L1254.5 664.6L1255.2 665.0L1255.9 665.6L1256.7 666.2L1257.5 666.8L1258.3 667.5L1258.9 668.1L1259.6 668.7L1260.1 669.3L1260.6 669.9L1261.1 670.5L1261.5 671.1L1261.9 671.8L1262.2 672.5L1262.5 673.3L1262.7 674.0L1262.9 674.6L1263.0 675.3L1263.0 675.9L1262.9 676.4L1262.7 676.9L1262.4 677.2L1261.9 677.6L1261.4 677.8L1260.8 678.1L1260.1 678.2L1259.4 678.4L1258.6 678.4L1257.8 678.5L1257.0 678.4L1256.2 678.4L1255.5 678.3L1254.7 678.1L1253.9 677.9L1253.1 677.6L1252.2 677.3L1251.3 676.9L1250.3 676.5L1249.4 676.1L1248.6 675.7L1247.9 675.3L1247.2 675.0L1246.5 674.7L1245.9 674.5L1245.3 674.3L1244.7 674.3L1244.2 674.2L1243.6 674.4L1243.0 674.6L1242.5 675.0L1242.1 675.4L1241.8 676.0L1241.7 676.6L1241.7 677.3L1241.8 677.8L1242.0 678.3L1242.3 678.8L1242.7 679.3L1243.1 679.8L1243.6 680.2L1244.2 680.8L1244.9 681.3L1245.6 681.9L1246.3 682.5L1247.1 683.2L1247.8 683.9L1248.4 684.6L1249.0 685.2L1249.5 685.9L1249.9 686.5L1250.3 687.2L1250.7 687.8L1251.0 688.6L1251.3 689.3L1251.6 690.1L1251.7 690.8L1251.8 691.5L1251.8 692.1L1251.8 692.7L1251.7 693.2L1251.5 693.6L1251.1 694.0L1250.6 694.3L1250.1 694.5L1249.5 694.7L1248.8 694.8L1248.0 694.9L1247.3 694.9L1246.4 694.9L1245.6 694.8L1244.9 694.7L1244.1 694.5L1243.4 694.3L1242.6 694.0L1241.8 693.7L1241.0 693.3L1240.1 692.8L1239.2 692.3L1238.3 691.9L1237.5 691.4L1236.8 691.0L1236.1 690.6L1235.5 690.2L1234.9 690.0L1234.3 689.8L1233.8 689.7L1233.2 689.6L1232.6 689.7L1232.0 689.9L1231.5 690.2L1231.0 690.6L1230.7 691.2L1230.5 691.8L1230.5 692.4L1230.5 693.0L1230.7 693.5L1231.0 694.0L1231.3 694.5L1231.7 695.0L1232.2 695.5L1232.7 696.1L1233.3 696.7L1234.0 697.3L1234.7 698.0L1235.4 698.8L1236.0 699.5L1236.6 700.3L1237.1 700.9L1237.6 701.6L1238.0 702.3L1238.3 703.0L1238.6 703.7L1238.9 704.4L1239.1 705.2L1239.3 705.9L1239.4 706.7L1239.5 707.4L1239.4 708.0L1239.3 708.6L1239.2 709.1L1238.9 709.5L1238.5 709.8L1238.0 710.1L1237.5 710.3L1236.9 710.4L1236.2 710.5L1235.4 710.5L1234.6 710.4L1233.8 710.3L1233.0 710.2L1232.3 710.0L1231.6 709.8L1230.8 709.5L1230.1 709.2L1229.3 708.8L1228.5 708.4L1227.6 707.8L1226.8 707.3L1225.9 706.7L1225.2 706.2L1224.5 705.7L1223.9 705.3L1223.3 704.9L1222.7 704.6L1222.2 704.3L1221.6 704.2L1221.0 704.1L1220.5 704.1L1219.9 704.3L1219.3 704.5L1218.8 704.9L1218.4 705.4L1218.2 706.1L1218.1 706.7L1218.1 707.2L1218.3 707.8L1218.5 708.3L1218.8 708.8L1219.1 709.4L1219.6 709.9L1220.1 710.5L1220.6 711.1L1221.2 711.8L1221.8 712.6L1222.5 713.4L1223.1 714.2L1223.6 714.9L1224.0 715.7L1224.5 716.4L1224.8 717.1L1225.1 717.8L1225.3 718.5L1225.5 719.3L1225.7 720.1L1225.8 720.8L1225.9 721.6L1225.9 722.3L1225.8 722.9L1225.7 723.5L1225.5 724.0L1225.2 724.4L1224.8 724.7L1224.2 724.9L1223.7 725.0L1223.0 725.1L1222.3 725.1L1221.6 725.1L1220.8 725.0L1220.0 724.8L1219.2 724.6L1218.5 724.3L1217.8 724.1L1217.1 723.7L1216.4 723.3L1215.6 722.9L1214.9 722.4L1214.1 721.8L1213.2 721.2L1212.4 720.6L1211.7 720.0L1211.1 719.4L1210.5 719.0L1209.9 718.5L1209.4 718.2L1208.9 717.9L1208.3 717.7L1207.8 717.6L1207.2 717.5L1206.6 717.6L1206.0 717.9L1205.4 718.2L1205.1 718.7L1204.8 719.3L1204.6 719.9L1204.6 720.5L1204.7 721.0L1204.9 721.6L1205.1 722.1L1205.5 722.7L1205.8 723.3L1206.3 723.9L1206.8 724.6L1207.3 725.3L1207.9 726.1L1208.5 727.0L1209.0 727.8L1209.5 728.6L1209.9 729.3L1210.2 730.1L1210.5 730.8L1210.7 731.5L1210.9 732.3L1211.1 733.1L1211.2 733.9L1211.2 734.6L1211.2 735.4L1211.1 736.1L1211.0 736.7L1210.8 737.2L1210.6 737.7L1210.3 738.1L1209.8 738.4L1209.3 738.5L1208.7 738.6L1208.1 738.7L1207.4 738.6L1206.7 738.5L1205.9 738.4L1205.1 738.1L1204.3 737.9L1203.6 737.6L1203.0 737.2L1202.3 736.8L1201.6 736.4L1200.9 735.9L1200.2 735.3L1199.4 734.7L1198.6 734.0L1197.9 733.3L1197.2 732.7L1196.7 732.1L1196.1 731.6L1195.6 731.1L1195.0 730.7L1194.5 730.4L1194.0 730.1L1193.5 730.0L1192.9 729.9L1192.3 730.0L1191.6 730.1L1191.1 730.4L1190.7 730.9L1190.4 731.5L1190.2 732.1L1190.1 732.6L1190.2 733.2L1190.3 733.7L1190.5 734.3L1190.8 734.9L1191.1 735.5L1191.5 736.2L1191.9 736.9L1192.4 737.6L1192.9 738.5L1193.4 739.4L1193.9 740.3L1194.3 741.1L1194.6 741.9L1194.9 742.6L1195.1 743.4L1195.3 744.1L1195.4 744.9L1195.5 745.7L1195.6 746.5L1195.6 747.3L1195.5 748.0L1195.4 748.7L1195.2 749.3L1195.0 749.8L1194.7 750.3L1194.3 750.6L1193.9 750.9L1193.3 751.0L1192.8 751.0L1192.1 751.0L1191.4 750.9L1190.7 750.8L1190.0 750.6L1189.2 750.3L1188.5 749.9L1187.8 749.6L1187.1 749.2L1186.5 748.8L1185.8 748.3L1185.2 747.7L1184.5 747.1L1183.8 746.4L1183.0 745.6L1182.4 744.9L1181.8 744.2L1181.2 743.6L1180.7 743.0L1180.2 742.5L1179.7 742.1L1179.3 741.7L1178.7 741.4L1178.2 741.2L1177.7 741.1L1177.1 741.1L1176.4 741.3L1175.8 741.5L1175.4 741.9L1175.0 742.5L1174.8 743.1L1174.7 743.6L1174.7 744.2L1174.8 744.7L1174.9 745.3L1175.1 745.9L1175.4 746.6L1175.8 747.2L1176.2 748.0L1176.6 748.8L1177.0 749.7L1177.4 750.6L1177.8 751.5L1178.2 752.4L1178.4 753.2L1178.6 754.0L1178.8 754.7L1178.9 755.5L1179.0 756.2L1179.0 757.0L1179.0 757.9L1179.0 758.6L1178.8 759.3L1178.6 760.0L1178.4 760.6L1178.2 761.1L1177.8 761.6L1177.5 761.9L1177.0 762.1L1176.4 762.2L1175.9 762.2L1175.2 762.1L1174.5 762.0L1173.8 761.8L1173.1 761.5L1172.4 761.1L1171.6 760.7L1171.0 760.3L1170.4 759.9L1169.8 759.4L1169.1 758.9L1168.5 758.3L1167.9 757.6L1167.3 756.9L1166.6 756.0L1166.0 755.3L1165.4 754.6L1165.0 753.9L1164.5 753.3L1164.0 752.7L1163.6 752.2L1163.1 751.8L1162.6 751.5L1162.1 751.3L1161.6 751.1L1161.0 751.1L1160.3 751.2L1159.7 751.4L1159.2 751.8L1158.8 752.3L1158.5 752.8L1158.4 753.4L1158.4 753.9L1158.4 754.5L1158.5 755.1L1158.7 755.7L1158.9 756.4L1159.2 757.1L1159.6 757.8L1159.9 758.7L1160.3 759.6L1160.6 760.6L1160.9 761.5L1161.2 762.4L1161.4 763.2L1161.6 764.0L1161.7 764.8L1161.7 765.5L1161.7 766.3L1161.7 767.1L1161.6 767.9L1161.5 768.7L1161.3 769.4L1161.1 770.0L1160.8 770.6L1160.5 771.1L1160.1 771.5L1159.7 771.8L1159.3 772.0L1158.7 772.0L1158.1 772.0L1157.5 771.9L1156.8 771.7L1156.1 771.4L1155.4 771.1L1154.7 770.6L1154.0 770.2L1153.4 769.8L1152.8 769.3L1152.3 768.7L1151.7 768.1L1151.1 767.5L1150.6 766.8L1150.0 766.0L1149.4 765.1L1148.8 764.3L1148.3 763.6L1147.9 762.8L1147.5 762.2L1147.1 761.6L1146.7 761.1L1146.2 760.7L1145.8 760.3L1145.3 760.0L1144.8 759.8L1144.2 759.7L1143.5 759.8L1142.9 759.9L1142.4 760.3L1141.9 760.8L1141.6 761.3L1141.4 761.8L1141.3 762.4L1141.3 763.0L1141.4 763.6L1141.5 764.2L1141.7 764.9L1141.9 765.6L1142.2 766.4L1142.5 767.2L1142.8 768.2L1143.0 769.2L1143.3 770.1L1143.5 771.0L1143.6 771.9L1143.7 772.7L1143.8 773.5L1143.7 774.2L1143.7 775.0L1143.6 775.8L1143.5 776.6L1143.3 777.3L1143.0 778.0L1142.8 778.6L1142.4 779.2L1142.1 779.7L1141.7 780.1L1141.3 780.3L1140.8 780.4L1140.2 780.4L1139.7 780.4L1139.0 780.2L1138.4 779.9L1137.7 779.6L1137.0 779.2L1136.4 778.8L1135.7 778.3L1135.1 777.8L1134.6 777.3L1134.1 776.7L1133.5 776.0L1133.0 775.4L1132.5 774.6L1132.0 773.8L1131.5 772.9L1131.0 772.0L1130.6 771.2L1130.2 770.5L1129.8 769.8L1129.5 769.2L1129.1 768.6L1128.7 768.2L1128.3 767.8L1127.8 767.4L1127.3 767.2L1126.7 767.1L1126.1 767.1L1125.4 767.2L1124.9 767.5L1124.4 767.9L1124.0 768.4L1123.8 768.9L1123.7 769.5L1123.6 770.1L1123.6 770.7L1123.7 771.3L1123.9 772.0L1124.0 772.7L1124.2 773.6L1124.5 774.4L1124.7 775.4L1124.9 776.4L1125.0 777.4L1125.1 778.3L1125.2 779.1L1125.2 779.9L1125.2 780.7L1125.2 781.5L1125.0 782.2L1124.9 783.0L1124.7 783.8L1124.4 784.5L1124.1 785.2L1123.8 785.8L1123.5 786.3L1123.1 786.8L1122.7 787.1L1122.2 787.4L1121.7 787.5L1121.2 787.4L1120.6 787.3L1120.0 787.1L1119.3 786.8L1118.7 786.4L1118.1 786.0L1117.4 785.4L1116.8 784.9L1116.3 784.4L1115.8 783.8L1115.3 783.2L1114.8 782.5L1114.4 781.8L1113.9 781.0L1113.5 780.1L1113.0 779.2L1112.6 778.3L1112.3 777.5L1111.9 776.7L1111.6 776.0L1111.3 775.3L1111.0 774.8L1110.6 774.3L1110.3 773.9L1109.8 773.5L1109.3 773.2L1108.7 773.1L1108.1 773.0L1107.5 773.0L1106.9 773.3L1106.4 773.7L1106.0 774.2L1105.7 774.7L1105.5 775.2L1105.4 775.8L1105.4 776.4L1105.4 777.0L1105.5 777.7L1105.6 778.5L1105.8 779.3L1105.9 780.2L1106.0 781.2L1106.1 782.2L1106.2 783.2L1106.3 784.1L1106.3 784.9L1106.2 785.8L1106.2 786.5L1106.0 787.3L1105.9 788.0L1105.7 788.8L1105.4 789.6L1105.1 790.3L1104.7 790.9L1104.4 791.5L1104.0 792.0L1103.5 792.4L1103.1 792.7L1102.6 792.9L1102.1 793.0L1101.6 792.9L1101.0 792.7L1100.4 792.4L1099.8 792.1L1099.2 791.7L1098.6 791.2L1098.0 790.6L1097.5 790.0L1097.0 789.5L1096.5 788.9L1096.1 788.2L1095.7 787.5L1095.3 786.7L1094.9 785.9L1094.5 785.0L1094.1 784.0L1093.8 783.1L1093.5 782.3L1093.3 781.5L1093.0 780.7L1092.7 780.1L1092.5 779.5L1092.1 779.0L1091.8 778.5L1091.4 778.1L1090.9 777.8L1090.3 777.6L1089.7 777.5L1089.1 777.5L1088.5 777.7L1087.9 778.1L1087.5 778.5L1087.2 779.0L1087.0 779.5L1086.8 780.1L1086.7 780.7L1086.7 781.3L1086.7 782.0L1086.8 782.8L1086.9 783.6L1086.9 784.5L1087.0 785.5L1087.0 786.5L1087.0 787.5L1087.0 788.4L1086.9 789.3L1086.8 790.1L1086.7 790.8L1086.5 791.6L1086.3 792.3L1086.0 793.1L1085.7 793.8L1085.3 794.5L1084.9 795.1L1084.5 795.7L1084.1 796.1L1083.6 796.5L1083.2 796.8L1082.7 796.9L1082.2 796.9L1081.6 796.8L1081.1 796.6L1080.5 796.3L1079.9 795.9L1079.4 795.4L1078.8 794.9L1078.3 794.3L1077.8 793.7L1077.3 793.1L1076.9 792.4L1076.5 791.7L1076.2 791.0L1075.8 790.2L1075.5 789.4L1075.2 788.4L1074.9 787.4L1074.6 786.5L1074.4 785.6L1074.2 784.8L1074.0 784.0L1073.8 783.4L1073.6 782.8L1073.3 782.2L1073.0 781.7L1072.7 781.3L1072.2 781.0L1071.6 780.7L1071.0 780.5L1070.4 780.5L1069.8 780.7L1069.2 781.0L1068.7 781.4L1068.4 781.8L1068.1 782.3L1067.9 782.9L1067.8 783.5L1067.7 784.1L1067.7 784.8L1067.7 785.6L1067.7 786.4L1067.7 787.3L1067.7 788.3L1067.6 789.3L1067.6 790.3L1067.5 791.2L1067.3 792.1L1067.2 792.9L1067.0 793.6L1066.7 794.3L1066.4 795.0L1066.1 795.8L1065.7 796.5L1065.3 797.2L1064.9 797.7L1064.4 798.3L1063.9 798.7L1063.5 799.0L1063.0 799.3L1062.5 799.4L1062.0 799.4L1061.4 799.2L1060.9 798.9L1060.4 798.6L1059.8 798.1L1059.3 797.6L1058.8 797.1L1058.3 796.4L1057.8 795.8L1057.4 795.1L1057.1 794.4L1056.8 793.7L1056.5 793.0L1056.2 792.2L1055.9 791.3L1055.7 790.3L1055.5 789.3L1055.3 788.3L1055.1 787.5L1055.0 786.6L1054.9 785.9L1054.7 785.2L1054.5 784.6L1054.3 784.0L1054.0 783.5L1053.7 783.0L1053.3 782.7L1052.8 782.4L1052.1 782.1L1051.5 782.1L1050.9 782.2L1050.3 782.5L1049.8 782.8L1049.4 783.2L1049.1 783.7L1048.9 784.2L1048.7 784.8L1048.6 785.4L1048.5 786.1L1048.4 786.9L1048.4 787.7L1048.3 788.6L1048.2 789.6L1048.1 790.7L1047.9 791.6L1047.8 792.5L1047.6 793.3L1047.3 794.1L1047.1 794.9L1046.8 795.6L1046.4 796.2L1046.0 796.9L1045.6 797.6L1045.1 798.3L1044.7 798.8L1044.1 799.3L1043.6 799.7L1043.1 800.0L1042.6 800.2L1042.1 800.3L1041.6 800.2L1041.1 800.0L1040.6 799.7L1040.1 799.3L1039.6 798.8L1039.1 798.3L1038.6 797.7L1038.2 797.0L1037.8 796.3L1037.4 795.6L1037.1 794.9L1036.9 794.2L1036.6 793.4L1036.4 792.6L1036.3 791.7L1036.1 790.7L1036.0 789.7L1035.8 788.7L1035.8 787.8L1035.7 787.0L1035.6 786.2L1035.5 785.5L1035.4 784.9L1035.2 784.3L1035.0 783.8L1034.7 783.3L1034.3 782.9L1033.8 782.5L1033.2 782.3L1032.6 782.1L1032.0 782.2L1031.3 782.5L1030.8 782.8L1030.4 783.1L1030.1 783.6L1029.8 784.1L1029.6 784.7L1029.4 785.3L1029.3 786.0L1029.1 786.7L1029.0 787.6L1028.9 788.5L1028.7 789.4L1028.5 790.4L1028.2 791.4L1028.0 792.3L1027.7 793.1L1027.5 793.9L1027.1 794.6L1026.8 795.2L1026.4 795.9L1025.9 796.6L1025.5 797.2L1024.9 797.8L1024.4 798.3L1023.9 798.7L1023.3 799.1L1022.8 799.4L1022.3 799.5L1021.8 799.6L1021.3 799.5L1020.8 799.2L1020.3 798.9L1019.8 798.4L1019.4 797.9L1018.9 797.4L1018.5 796.7L1018.1 796.0L1017.8 795.3L1017.5 794.6L1017.2 793.8L1017.0 793.1L1016.9 792.3L1016.7 791.4L1016.6 790.6L1016.5 789.6L1016.5 788.5L1016.4 787.5L1016.4 786.6L1016.4 785.8L1016.4 785.0L1016.4 784.3L1016.3 783.7L1016.2 783.1L1016.0 782.6L1015.7 782.1L1015.4 781.6L1014.9 781.2L1014.3 780.9L1013.7 780.7L1013.1 780.8L1012.4 781.0L1011.9 781.2L1011.4 781.6L1011.1 782.0L1010.8 782.5L1010.5 783.0L1010.3 783.7L1010.1 784.3L1009.9 785.1L1009.7 785.9L1009.5 786.8L1009.2 787.7L1008.9 788.7L1008.6 789.7L1008.3 790.5L1008.0 791.3L1007.7 792.0L1007.3 792.7L1006.9 793.4L1006.4 794.0L1005.9 794.6L1005.4 795.2L1004.8 795.8L1004.3 796.2L1003.7 796.6L1003.1 796.9L1002.6 797.2L1002.1 797.3L1001.6 797.3L1001.1 797.1L1000.6 796.9L1000.2 796.5L999.7 796.0L999.3 795.5L998.9 794.9L998.5 794.2L998.2 793.4L997.9 792.7L997.7 792.0L997.5 791.2L997.3 790.5L997.2 789.6L997.2 788.8L997.1 787.9L997.1 786.9L997.1 785.9L997.2 784.9L997.2 784.0L997.3 783.2L997.4 782.4L997.4 781.7L997.3 781.0L997.3 780.4L997.1 779.9L996.9 779.4L996.6 778.9L996.1 778.5L995.6 778.1L995.0 777.9L994.4 777.9L993.7 778.0L993.1 778.2L992.7 778.6L992.3 779.0L991.9 779.4L991.6 779.9L991.4 780.5L991.1 781.2L990.8 781.9L990.6 782.7L990.3 783.6L990.0 784.5L989.6 785.5L989.2 786.4L988.9 787.2L988.5 788.0L988.1 788.7L987.6 789.3L987.2 789.9L986.7 790.5L986.2 791.1L985.6 791.7L985.0 792.2L984.4 792.6L983.8 793.0L983.2 793.2L982.6 793.4L982.1 793.5L981.6 793.5L981.1 793.3L980.7 792.9L980.2 792.5L979.8 792.0L979.4 791.5L979.1 790.8L978.8 790.1L978.5 789.3L978.3 788.6L978.1 787.8L978.0 787.1L977.9 786.3L977.9 785.5L977.9 784.6L977.9 783.7L978.0 782.8L978.1 781.7L978.2 780.7L978.3 779.9L978.5 779.0L978.6 778.3L978.6 777.6L978.7 776.9L978.6 776.3L978.5 775.8L978.3 775.2L978.1 774.7L977.7 774.3L977.1 773.9L976.6 773.6L975.9 773.5L975.3 773.6L974.7 773.8L974.2 774.1L973.8 774.5L973.4 774.9L973.0 775.4L972.7 775.9L972.4 776.6L972.1 777.3L971.8 778.1L971.5 778.9L971.1 779.8L970.6 780.7L970.2 781.6L969.7 782.4L969.3 783.1L968.8 783.8L968.3 784.4L967.8 785.0L967.3 785.6L966.7 786.1L966.1 786.6L965.4 787.1L964.8 787.4L964.2 787.7L963.6 788.0L963.0 788.1L962.4 788.1L961.9 788.1L961.5 787.8L961.1 787.5L960.7 787.0L960.3 786.5L960.0 785.9L959.7 785.3L959.4 784.5L959.2 783.7L959.1 782.9L958.9 782.2L958.9 781.4L958.9 780.7L958.9 779.8L958.9 779.0L959.0 778.1L959.2 777.1L959.4 776.1L959.6 775.1L959.8 774.3L960.0 773.5L960.2 772.7L960.3 772.0L960.4 771.4L960.4 770.8L960.3 770.2L960.2 769.6L959.9 769.1L959.6 768.7L959.1 768.2L958.5 767.9L957.9 767.8L957.3 767.8L956.6 768.0L956.1 768.2L955.7 768.5L955.3 768.9L954.9 769.4L954.5 769.9L954.2 770.5L953.8 771.2L953.4 772.0L953.0 772.8L952.5 773.6L952.0 774.5L951.5 775.4L951.0 776.1L950.5 776.8L950.0 777.5L949.5 778.1L948.9 778.6L948.3 779.1L947.7 779.6L947.0 780.1L946.4 780.5L945.7 780.8L945.1 781.0L944.4 781.2L943.9 781.3L943.3 781.3L942.8 781.2L942.4 780.9L942.0 780.5L941.6 780.1L941.3 779.5L941.0 778.9L940.8 778.2L940.6 777.4L940.4 776.6L940.3 775.8L940.3 775.1L940.3 774.3L940.3 773.6L940.4 772.7L940.5 771.9L940.7 771.0L940.9 770.1L941.2 769.0L941.5 768.1L941.8 767.2L942.0 766.5L942.3 765.7L942.4 765.0L942.6 764.4L942.6 763.8L942.6 763.2L942.5 762.7L942.3 762.2L942.0 761.6L941.5 761.2L941.0 760.8L940.4 760.6L939.7 760.6L939.1 760.7L938.6 760.9L938.1 761.2L937.7 761.6L937.2 762.0L936.9 762.5L936.4 763.1L936.0 763.8L935.6 764.5L935.1 765.2L934.6 766.1L934.0 766.9L933.4 767.7L932.9 768.4L932.3 769.1L931.7 769.7L931.2 770.2L930.6 770.7L930.0 771.2L929.3 771.6L928.6 772.0L927.9 772.4L927.2 772.7L926.5 772.8L925.9 773.0L925.3 773.0L924.8 773.0L924.3 772.8L923.9 772.5L923.5 772.1L923.2 771.6L922.9 771.1L922.7 770.4L922.5 769.7L922.4 768.9L922.3 768.1L922.2 767.3L922.3 766.6L922.3 765.8L922.4 765.0L922.5 764.2L922.8 763.4L923.0 762.5L923.3 761.6L923.7 760.6L924.0 759.7L924.3 758.9L924.7 758.1L925.0 757.4L925.2 756.7L925.4 756.1L925.5 755.5L925.5 754.9L925.5 754.4L925.3 753.8L925.0 753.3L924.6 752.8L924.1 752.4L923.5 752.2L922.9 752.1L922.2 752.1L921.7 752.3L921.2 752.6L920.7 752.9L920.3 753.3L919.8 753.8L919.4 754.3L918.9 754.9L918.4 755.6L917.9 756.3L917.3 757.1L916.6 757.9L916.0 758.7L915.4 759.4L914.8 760.0L914.2 760.5L913.5 761.0L912.9 761.5L912.3 761.9L911.6 762.2L910.8 762.6L910.1 762.9L909.4 763.1L908.7 763.3L908.1 763.3L907.5 763.3L906.9 763.3L906.5 763.1L906.1 762.7L905.8 762.3L905.5 761.8L905.3 761.2L905.1 760.5L904.9 759.8L904.9 759.0L904.9 758.2L904.9 757.4L904.9 756.7L905.1 755.9L905.2 755.2L905.4 754.4L905.7 753.6L906.0 752.7L906.4 751.8L906.8 750.8L907.2 749.9L907.6 749.1L908.0 748.4L908.4 747.7L908.6 747.1L908.9 746.5L909.0 745.9L909.1 745.3L909.1 744.7L909.0 744.2L908.7 743.6L908.4 743.1L907.9 742.7L907.3 742.4L906.7 742.3L906.1 742.3L905.5 742.4L905.0 742.6L904.5 742.9L904.0 743.3L903.5 743.7L903.0 744.2L902.5 744.8L902.0 745.5L901.4 746.1L900.7 746.9L900.0 747.6L899.3 748.3L898.7 748.9L898.0 749.5L897.4 750.0L896.7 750.5L896.1 750.8L895.4 751.2L894.6 751.5L893.9 751.8L893.1 752.1L892.4 752.2L891.7 752.3L891.1 752.3L890.5 752.3L889.9 752.2L889.5 752.0L889.1 751.6L888.9 751.1L888.6 750.6L888.4 750.0L888.3 749.3L888.2 748.6L888.2 747.8L888.3 747.0L888.4 746.2L888.5 745.4L888.6 744.7L888.9 744.0L889.1 743.2L889.5 742.4L889.9 741.6L890.3 740.7L890.8 739.8L891.3 738.9L891.8 738.2L892.2 737.5L892.6 736.8L892.9 736.2L893.2 735.6L893.4 735.0L893.5 734.4L893.6 733.9L893.5 733.3L893.3 732.8L893.0 732.2L892.6 731.7L892.0 731.4L891.4 731.3L890.7 731.2L890.2 731.3L889.6 731.4L889.1 731.7L888.6 732.0L888.1 732.4L887.6 732.9L887.0 733.4L886.4 734.0L885.8 734.7L885.1 735.4L884.3 736.1L883.5 736.7L882.8 737.3L882.1 737.8L881.4 738.2L880.8 738.6L880.1 739.0L879.4 739.3L878.6 739.5L877.8 739.8L877.1 740.0L876.3 740.1L875.6 740.1L875.0 740.1L874.4 740.0L873.9 739.8L873.4 739.6L873.1 739.2L872.9 738.7L872.7 738.1L872.6 737.5L872.5 736.8L872.5 736.1L872.5 735.3L872.6 734.5L872.8 733.7L873.0 733.0L873.2 732.3L873.5 731.5L873.8 730.8L874.2 730.0L874.6 729.2L875.1 728.4L875.7 727.5L876.3 726.7L876.8 726.0L877.3 725.3L877.8 724.7L878.1 724.1L878.4 723.5L878.7 723.0L878.9 722.4L878.9 721.9L878.9 721.3L878.8 720.7L878.5 720.1L878.1 719.6L877.6 719.3L877.0 719.1L876.3 719.0L875.8 719.0L875.2 719.1L874.7 719.3L874.1 719.6L873.6 720.0L873.0 720.4L872.4 720.9L871.8 721.5L871.1 722.0L870.4 722.7L869.5 723.3L868.7 723.9L868.0 724.4L867.2 724.8L866.5 725.2L865.8 725.6L865.1 725.9L864.4 726.1L863.6 726.3L862.8 726.5L862.0 726.6L861.3 726.7L860.6 726.7L859.9 726.6L859.4 726.4L858.9 726.2L858.4 725.9L858.1 725.5L857.9 725.0L857.8 724.5L857.7 723.8L857.7 723.1L857.7 722.4L857.8 721.7L858.0 720.9L858.2 720.1L858.5 719.4L858.7 718.7L859.1 718.0L859.5 717.2L859.9 716.5L860.4 715.8L861.0 715.0L861.7 714.1L862.3 713.4L862.9 712.7L863.4 712.0L863.9 711.5L864.3 710.9L864.7 710.4L865.0 709.8L865.2 709.3L865.3 708.7L865.3 708.2L865.2 707.6L865.0 707.0L864.7 706.4L864.2 706.1L863.6 705.8L863.0 705.6L862.4 705.6L861.8 705.7L861.3 705.9L860.7 706.1L860.2 706.5L859.6 706.8L858.9 707.3L858.2 707.8L857.5 708.3L856.7 708.9L855.8 709.4L855.0 710.0L854.2 710.4L853.4 710.8L852.6 711.1L851.9 711.4L851.2 711.7L850.4 711.8L849.7 712.0L848.8 712.1L848.1 712.2L847.3 712.2L846.6 712.1L846.0 712.0L845.4 711.8L844.9 711.5L844.5 711.2L844.3 710.8L844.1 710.3L844.0 709.7L844.0 709.1L844.0 708.4L844.1 707.7L844.3 706.9L844.5 706.1L844.8 705.4L845.1 704.7L845.4 704.0L845.8 703.3L846.3 702.6L846.8 701.9L847.3 701.2L848.0 700.5L848.7 699.7L849.4 699.0L850.0 698.3L850.6 697.7L851.2 697.2L851.6 696.7L852.0 696.2L852.3 695.6L852.6 695.1L852.8 694.6L852.8 694.0L852.8 693.4L852.6 692.8L852.3 692.3L851.8 691.8L851.3 691.5L850.7 691.3L850.1 691.3L849.5 691.3L849.0 691.4L848.4 691.6L847.8 691.9L847.2 692.3L846.5 692.6L845.8 693.1L845.0 693.6L844.2 694.1L843.2 694.6L842.4 695.0L841.5 695.4L840.7 695.7L840.0 696.0L839.2 696.2L838.5 696.4L837.7 696.5L836.9 696.6L836.1 696.7L835.3 696.7L834.6 696.6L833.9 696.5L833.3 696.3L832.7 696.1L832.2 695.8L831.9 695.5L831.6 695.0L831.5 694.5L831.5 693.9L831.5 693.3L831.6 692.6L831.7 691.9L832.0 691.1L832.3 690.4L832.6 689.6L832.9 689.0L833.3 688.3L833.8 687.7L834.3 687.0L834.8 686.4L835.5 685.7L836.2 685.0L836.9 684.3L837.7 683.6L838.3 683.0L839.0 682.5L839.6 682.0L840.1 681.5L840.5 681.0L840.9 680.5L841.2 680.0L841.4 679.5L841.5 679.0L841.5 678.4L841.4 677.7L841.1 677.2L840.7 676.7L840.1 676.3L839.5 676.1L839.0 676.0L838.4 676.0L837.8 676.1L837.3 676.2L836.7 676.5L836.0 676.8L835.3 677.1L834.6 677.5L833.8 677.9L832.9 678.3L831.9 678.7L831.0 679.1L830.1 679.5L829.3 679.7L828.5 679.9L827.7 680.1L827.0 680.2L826.2 680.3L825.4 680.3L824.6 680.3L823.8 680.2L823.1 680.1L822.4 679.9L821.8 679.7L821.3 679.5L820.8 679.1L820.5 678.8L820.3 678.3L820.2 677.8L820.2 677.2L820.3 676.5L820.4 675.9L820.6 675.2L820.9 674.5L821.3 673.7L821.7 673.0L822.1 672.4L822.5 671.8L823.0 671.1L823.6 670.5L824.2 669.9L824.8 669.3L825.6 668.7L826.4 668.0L827.2 667.4L827.9 666.9L828.6 666.4L829.2 665.9L829.8 665.5L830.3 665.0L830.7 664.6L831.0 664.1L831.2 663.6L831.4 663.1L831.4 662.5L831.4 661.8L831.1 661.2L830.7 660.8L830.2 660.4L829.7 660.1L829.1 659.9L828.6 659.9L828.0 659.9L827.4 660.0L826.8 660.2L826.1 660.4L825.4 660.7L824.6 661.1L823.8 661.4L822.8 661.7L821.8 662.1L820.9 662.4L820.0 662.7L819.2 662.9L818.4 663.0L817.6 663.1L816.8 663.2L816.0 663.2L815.2 663.2L814.4 663.1L813.6 663.0L812.9 662.8L812.3 662.6L811.7 662.3L811.2 662.0L810.8 661.6L810.5 661.2L810.3 660.8L810.3 660.2L810.3 659.6L810.4 659.0L810.6 658.3L810.9 657.7L811.2 657.0L811.6 656.3L812.1 655.6L812.5 655.0L813.0 654.4L813.6 653.8L814.2 653.3L814.8 652.7L815.5 652.2L816.3 651.6L817.2 651.0L818.0 650.4L818.8 650.0L819.5 649.5L820.2 649.1L820.8 648.7L821.3 648.3L821.7 647.9L822.1 647.4L822.4 647.0L822.6 646.5L822.7 645.8L822.6 645.2L822.5 644.6L822.1 644.1L821.6 643.6L821.1 643.3L820.6 643.1L820.0 643.0L819.4 643.0L818.8 643.1L818.2 643.2L817.5 643.4L816.8 643.6L816.0 643.9L815.1 644.2L814.1 644.5L813.1 644.7L812.1 645.0L811.3 645.2L810.4 645.3L809.6 645.4L808.8 645.4L808.0 645.4L807.3 645.4L806.5 645.3L805.7 645.1L804.9 645.0L804.2 644.7L803.6 644.4L803.0 644.1L802.5 643.8L802.1 643.4L801.9 643.0L801.7 642.5L801.7 642.0L801.8 641.4L802.0 640.8L802.2 640.1L802.6 639.5L803.0 638.8L803.4 638.1L803.9 637.5L804.4 636.9L805.0 636.4L805.5 635.8L806.2 635.3L806.9 634.8L807.6 634.3L808.5 633.8L809.4 633.3L810.3 632.8L811.1 632.4L811.8 632.0L812.5 631.7L813.1 631.3L813.7 630.9L814.1 630.6L814.5 630.1L814.9 629.7L815.1 629.2L815.2 628.6L815.3 627.9L815.2 627.3L814.8 626.8L814.4 626.3L813.9 625.9L813.4 625.7L812.8 625.6L812.2 625.5L811.6 625.5L811.0 625.6L810.3 625.7L809.5 625.9L808.7 626.1L807.8 626.3L806.9 626.5L805.8 626.7L804.8 626.9L803.9 627.0L803.1 627.1L802.2 627.1L801.5 627.1L800.7 627.0L799.9 626.9L799.1 626.8L798.3 626.6L797.6 626.3L796.9 626.0L796.3 625.7L795.8 625.3L795.3 625.0L795.0 624.6L794.7 624.1L794.6 623.6L794.7 623.1L794.8 622.5L795.0 621.9L795.3 621.3L795.7 620.7L796.2 620.0L796.7 619.4L797.2 618.8L797.8 618.3L798.3 617.8L799.0 617.3L799.6 616.8L800.4 616.4L801.2 615.9L802.1 615.5L803.0 615.0L803.9 614.6L804.8 614.3L805.5 614.0L806.3 613.7L806.9 613.3L807.5 613.0L808.0 612.7L808.4 612.3L808.8 611.9L809.0 611.4L809.2 610.8L809.3 610.1L809.2 609.5L809.0 609.0L808.5 608.5L808.1 608.1L807.6 607.8L807.0 607.6L806.5 607.5L805.9 607.5L805.2 607.5L804.5 607.6L803.7 607.7L802.9 607.9L802.0 608.0L801.0 608.1L800.0 608.2L799.0 608.3L798.1 608.4L797.2 608.4L796.4 608.3L795.6 608.3L794.8 608.1L794.1 608.0L793.3 607.7L792.5 607.5L791.8 607.2L791.2 606.8L790.6 606.5L790.1 606.1L789.6 605.7L789.3 605.2L789.1 604.8L789.1 604.3L789.2 603.7L789.3 603.2L789.6 602.6L789.9 602.0L790.4 601.4L790.9 600.8L791.4 600.2L792.0 599.7L792.6 599.2L793.2 598.7L793.9 598.3L794.6 597.9L795.4 597.5L796.2 597.1L797.1 596.7L798.1 596.4L799.0 596.0L799.9 595.7L800.7 595.5L801.4 595.2L802.1 595.0L802.7 594.7L803.2 594.4L803.7 594.0L804.1 593.6L804.4 593.2L804.6 592.6L804.7 592.0L804.7 591.3L804.5 590.8L804.1 590.2L803.7 589.8L803.2 589.5L802.7 589.3L802.1 589.1L801.5 589.0L800.9 589.0L800.2 589.0L799.4 589.1L798.5 589.2L797.6 589.2L796.7 589.3L795.6 589.3L794.6 589.3L793.7 589.3L792.8 589.2L792.0 589.1L791.2 589.0L790.5 588.8L789.8 588.6L789.0 588.3L788.2 588.0L787.5 587.6L786.9 587.3L786.4 586.8L785.9 586.4L785.5 586.0L785.2 585.5L785.1 585.0L785.1 584.5L785.2 584.0L785.4 583.5L785.7 582.9L786.1 582.3L786.6 581.8L787.1 581.2L787.7 580.7L788.4 580.2L789.0 579.7L789.6 579.3L790.3 578.9L791.1 578.6L791.9 578.3L792.7 577.9L793.7 577.6L794.7 577.3L795.6 577.1L796.5 576.9L797.3 576.7L798.1 576.5L798.8 576.3L799.4 576.0L799.9 575.8L800.4 575.5L800.9 575.1L801.2 574.7L801.5 574.1L801.7 573.5L801.7 572.9L801.5 572.3L801.2 571.7L800.8 571.2L800.3 570.9L799.8 570.6L799.3 570.5L798.7 570.3L798.0 570.3L797.3 570.2L796.5 570.2L795.7 570.2L794.8 570.2L793.8 570.2L792.7 570.1L791.7 570.1L790.8 570.0L790.0 569.8L789.2 569.7L788.4 569.5L787.7 569.2L787.0 569.0L786.2 568.6L785.5 568.3L784.8 567.8L784.3 567.4L783.7 566.9L783.3 566.5L783.0 566.0L782.7 565.5L782.6 565.0L782.6 564.5L782.8 564.0L783.1 563.5L783.4 563.0L783.8 562.4L784.3 561.9L784.9 561.4L785.6 560.9L786.3 560.4L786.9 560.1L787.6 559.7L788.3 559.4L789.1 559.1L789.9 558.8L790.8 558.6L791.7 558.3L792.8 558.1L793.8 557.9L794.6 557.8L795.5 557.7L796.3 557.5L796.9 557.4L797.6 557.2L798.1 557.0L798.7 556.7L799.1 556.4L799.5 556.0L799.8 555.4L800.0 554.8L800.1 554.2L800.0 553.6L799.7 553.0L799.3 552.5L798.9 552.1L798.4 551.8L797.9 551.6L797.3 551.4L796.7 551.3L796.0 551.2L795.2 551.2L794.4 551.1L793.5 551.0L792.5 550.9L791.4 550.8L790.4 550.6L789.5 550.5L788.7 550.3L787.9 550.1L787.2 549.8L786.5 549.5L785.8 549.2L785.1 548.8L784.4 548.4L783.7 547.9L783.2 547.4L782.7 546.9L782.3 546.4L782.0 545.9L781.8 545.4L781.7 544.9L781.8 544.4L782.0 543.9L782.3 543.4L782.7 542.9L783.2 542.4L783.7 541.9L784.3 541.5L785.0 541.0L785.7 540.6L786.4 540.3L787.1 540.0L787.8 539.7L788.6 539.5L789.5 539.3L790.4 539.1L791.4 539.0L792.4 538.8L793.4 538.7L794.3 538.6L795.1 538.6L795.9 538.5L796.6 538.4L797.3 538.3L797.8 538.1L798.4 537.9L798.9 537.6L799.3 537.2L799.6 536.7L799.9 536.1L800.0 535.5L799.9 534.9L799.7 534.3L799.4 533.7L799.0 533.3L798.5 533.0L798.0 532.7L797.5 532.5L796.8 532.3L796.1 532.2L795.4 532.1L794.5 531.9L793.6 531.8L792.7 531.6L791.6 531.4L790.7 531.2L789.8 530.9L789.0 530.7L788.2 530.4L787.5 530.1L786.8 529.7L786.1 529.4L785.4 528.9L784.8 528.4L784.2 527.9L783.7 527.4L783.2 526.9L782.9 526.3L782.6 525.8L782.4 525.3L782.4 524.8L782.5 524.3L782.8 523.8L783.1 523.3L783.5 522.9L784.1 522.4L784.6 522.0L785.3 521.6L786.0 521.2L786.8 520.8L787.5 520.5L788.2 520.3L789.0 520.1L789.8 519.9L790.6 519.8L791.5 519.7L792.5 519.6L793.6 519.5L794.6 519.5L795.5 519.5L796.3 519.5L797.1 519.5L797.8 519.4L798.4 519.4L799.0 519.2L799.6 519.0L800.1 518.8L800.5 518.4L800.9 518.0L801.3 517.4L801.4 516.8L801.4 516.2L801.2 515.6L800.9 515.0L800.6 514.6L800.2 514.2L799.7 513.9L799.1 513.6L798.5 513.4L797.8 513.2L797.1 513.0L796.2 512.9L795.4 512.6L794.4 512.4L793.4 512.1L792.4 511.8L791.6 511.5L790.8 511.2L790.0 510.8L789.3 510.5L788.7 510.1L788.1 509.6L787.4 509.1L786.8 508.6L786.2 508.0L785.8 507.5L785.4 506.9L785.1 506.3L784.8 505.8L784.7 505.3L784.7 504.8L784.9 504.3L785.1 503.8L785.5 503.4L786.0 503.0L786.5 502.5L787.2 502.1L787.9 501.8L788.6 501.5L789.4 501.2L790.1 500.9L790.8 500.7L791.6 500.6L792.4 500.5L793.3 500.4L794.2 500.4L795.2 500.4L796.3 500.4L797.3 500.5L798.2 500.5L799.0 500.6L799.8 500.6L800.5 500.6L801.1 500.6L801.7 500.5L802.3 500.4L802.8 500.2L803.3 499.9L803.7 499.4L804.1 498.9L804.3 498.3L804.3 497.7L804.2 497.0L804.0 496.5L803.6 496.0L803.2 495.6L802.8 495.3L802.2 495.0L801.7 494.7L801.0 494.4L800.3 494.2L799.4 494.0L798.6 493.7L797.6 493.3L796.7 493.0L795.7 492.6L794.9 492.2L794.1 491.9L793.4 491.5L792.7 491.0L792.1 490.6L791.5 490.1L790.9 489.6L790.4 489.0L789.9 488.4L789.4 487.8L789.1 487.2L788.8 486.6L788.6 486.1L788.5 485.5L788.6 485.0L788.8 484.5L789.1 484.1L789.5 483.7L790.0 483.3L790.6 482.9L791.3 482.6L792.0 482.3L792.7 482.0L793.5 481.8L794.3 481.6L795.0 481.5L795.8 481.4L796.6 481.3L797.5 481.3L798.4 481.4L799.4 481.5L800.5 481.6L801.4 481.7L802.3 481.8L803.2 481.9L803.9 482.1L804.6 482.1L805.3 482.1L805.9 482.1L806.5 482.0L807.0 481.8L807.5 481.6L808.0 481.1L808.4 480.6L808.7 480.1L808.7 479.5L808.6 478.8L808.4 478.2L808.2 477.7L807.8 477.3L807.4 476.9L806.9 476.6L806.3 476.3L805.6 476.0L804.9 475.7L804.1 475.4L803.3 475.0L802.4 474.6L801.4 474.2L800.5 473.7L799.8 473.3L799.0 472.9L798.3 472.4L797.7 471.9L797.1 471.4L796.6 470.9L796.0 470.3L795.5 469.7L795.0 469.1L794.7 468.4L794.4 467.8L794.1 467.2L794.0 466.6L794.0 466.1L794.0 465.6L794.3 465.2L794.6 464.8L795.1 464.4L795.6 464.0L796.2 463.7L796.9 463.4L797.6 463.1L798.4 462.9L799.2 462.8L800.0 462.6L800.7 462.6L801.5 462.5L802.3 462.6L803.2 462.6L804.1 462.7L805.1 462.9L806.1 463.1L807.1 463.3L808.0 463.5L808.8 463.7L809.6 463.8L810.3 464.0L810.9 464.0L811.5 464.0L812.1 464.0L812.7 463.9L813.2 463.6L813.7 463.3L814.1 462.8L814.4 462.2L814.5 461.6L814.5 461.0L814.4 460.4L814.1 459.9L813.8 459.4L813.4 459.0L812.9 458.6L812.4 458.3L811.8 457.9L811.1 457.6L810.3 457.2L809.5 456.8L808.6 456.3L807.7 455.8L806.8 455.3L806.1 454.8L805.4 454.3L804.7 453.8L804.1 453.3L803.6 452.7L803.1 452.2L802.6 451.5L802.1 450.9L801.7 450.2L801.4 449.6L801.2 448.9L801.0 448.3L800.9 447.7L800.9 447.2L801.0 446.7L801.3 446.3L801.6 445.9L802.1 445.5L802.7 445.2L803.3 444.9L804.0 444.7L804.8 444.5L805.6 444.3L806.4 444.2L807.1 444.2L807.9 444.2L808.7 444.2L809.5 444.3L810.4 444.4L811.3 444.6L812.2 444.8L813.3 445.1L814.2 445.4L815.1 445.6L815.9 445.9L816.6 446.1L817.3 446.3L818.0 446.4L818.6 446.5L819.1 446.5L819.7 446.4L820.2 446.2L820.8 445.9L821.2 445.4L821.6 444.9L821.8 444.3L821.8 443.6L821.7 443.0L821.5 442.5L821.2 442.0L820.8 441.6L820.4 441.2L819.9 440.8L819.3 440.4L818.6 440.0L817.9 439.6L817.1 439.1L816.3 438.6L815.4 438.0L814.6 437.4L813.9 436.8L813.2 436.3L812.6 435.7L812.1 435.2L811.6 434.6L811.1 434.0L810.7 433.3L810.2 432.6L809.9 431.9L809.6 431.3L809.4 430.6L809.3 430.0L809.2 429.4L809.3 428.8L809.4 428.4L809.7 428.0L810.2 427.6L810.7 427.3L811.2 427.0L811.9 426.8L812.6 426.6L813.4 426.5L814.2 426.4L815.0 426.3L815.8 426.3L816.5 426.4L817.3 426.5L818.1 426.6L819.0 426.8L819.8 427.1L820.8 427.4L821.8 427.7L822.7 428.1L823.6 428.4L824.3 428.7L825.1 429.0L825.7 429.2L826.4 429.4L827.0 429.5L827.6 429.6L828.1 429.5L828.7 429.4L829.2 429.1L829.7 428.7L830.1 428.2L830.3 427.6L830.4 426.9L830.4 426.3L830.2 425.8L829.9 425.3L829.6 424.8L829.2 424.4L828.7 423.9L828.2 423.5L827.5 423.0L826.8 422.6L826.1 422.0L825.3 421.4L824.5 420.8L823.7 420.1L823.1 419.5L822.4 418.9L821.9 418.3L821.4 417.7L820.9 417.1L820.5 416.5L820.1 415.8L819.8 415.1L819.5 414.3L819.3 413.6L819.1 413.0L819.0 412.3L819.0 411.7L819.1 411.2L819.3 410.7L819.6 410.4L820.1 410.0L820.6 409.8L821.2 409.5L821.9 409.4L822.6 409.2L823.4 409.2L824.2 409.1L825.0 409.2L825.8 409.2L826.5 409.3L827.3 409.5L828.1 409.7L828.9 410.0L829.8 410.3L830.7 410.7L831.7 411.1L832.6 411.5L833.4 411.9L834.1 412.3L834.8 412.6L835.5 412.9L836.1 413.1L836.7 413.3L837.3 413.3L837.8 413.4L838.4 413.2L839.0 413.0L839.5 412.6L839.9 412.2L840.2 411.6L840.3 411.0L840.3 410.3L840.2 409.8L840.0 409.3L839.7 408.8L839.3 408.3L838.9 407.8L838.4 407.4L837.8 406.8L837.1 406.3L836.4 405.7L835.7 405.1L834.9 404.4L834.2 403.7L833.6 403.0L833.0 402.4L832.5 401.7L832.1 401.1L831.7 400.4L831.3 399.8L831.0 399.0L830.7 398.3L830.4 397.5L830.3 396.8L830.2 396.1L830.2 395.5L830.2 394.9L830.3 394.4L830.5 394.0L830.9 393.6L831.4 393.3L831.9 393.1L832.5 392.9L833.2 392.8L834.0 392.7L834.7 392.7L835.6 392.7L836.4 392.8L837.1 392.9L837.9 393.1L838.6 393.3L839.4 393.6L840.2 393.9L841.0 394.3L841.9 394.8L842.8 395.3L843.7 395.7L844.5 396.2L845.2 396.6L845.9 397.0L846.5 397.4L847.1 397.6L847.7 397.8L848.2 397.9L848.8 398.0L849.4 397.9L850.0 397.7L850.5 397.4L851.0 397.0L851.3 396.4L851.5 395.8L851.5 395.2L851.5 394.6L851.3 394.1L851.0 393.6L850.7 393.1L850.3 392.6L849.8 392.1L849.3 391.5L848.7 390.9L848.0 390.3L847.3 389.6L846.6 388.8L846.0 388.1L845.4 387.3L844.9 386.7L844.4 386.0L844.0 385.3L843.7 384.6L843.4 383.9L843.1 383.2L842.9 382.4L842.7 381.7L842.6 380.9L842.5 380.2L842.6 379.6L842.7 379.0L842.8 378.5L843.1 378.1L843.5 377.8L844.0 377.5L844.5 377.3L845.1 377.2L845.8 377.1L846.6 377.1L847.4 377.2L848.2 377.3L849.0 377.4L849.7 377.6L850.4 377.8L851.2 378.1L851.9 378.4L852.7 378.8L853.5 379.2L854.4 379.8L855.2 380.3L856.1 380.9L856.8 381.4L857.5 381.9L858.1 382.3L858.7 382.7L859.3 383.0L859.8 383.3L860.4 383.4L861.0 383.5L861.5 383.5L862.1 383.3L862.7 383.1L863.2 382.7L863.6 382.2L863.8 381.5L863.9 380.9L863.9 380.4L863.7 379.8L863.5 379.3L863.2 378.8L862.9 378.2L862.4 377.7L861.9 377.1L861.4 376.5L860.8 375.8L860.2 375.0L859.5 374.2L858.9 373.4L858.4 372.7L858.0 371.9L857.5 371.2L857.2 370.5L856.9 369.8L856.7 369.1L856.5 368.3L856.3 367.5L856.2 366.8L856.1 366.0L856.1 365.3L856.2 364.7L856.3 364.1L856.5 363.6L856.8 363.2L857.2 362.9L857.8 362.7L858.3 362.6L859.0 362.5L859.7 362.5L860.4 362.5L861.2 362.6L862.0 362.8L862.8 363.0L863.5 363.3L864.2 363.5L864.9 363.9L865.6 364.3L866.4 364.7L867.1 365.2L867.9 365.8L868.8 366.4L869.6 367.0L870.3 367.6L870.9 368.2L871.5 368.6L872.1 369.1L872.6 369.4L873.1 369.7L873.7 369.9L874.2 370.0L874.8 370.1L875.4 370.0L876.0 369.7L876.6 369.4L876.9 368.9L877.2 368.3L877.4 367.7L877.4 367.1L877.3 366.6L877.1 366.0L876.9 365.5L876.5 364.9L876.2 364.3L875.7 363.7L875.2 363.0L874.7 362.3L874.1 361.5L873.5 360.6L873.0 359.8L872.5 359.0L872.1 358.3L871.8 357.5L871.5 356.8L871.3 356.1L871.1 355.3L870.9 354.5L870.8 353.7L870.8 353.0L870.8 352.2L870.9 351.5L871.0 350.9L871.2 350.4L871.4 349.9L871.7 349.5L872.2 349.2L872.7 349.1L873.3 349.0L873.9 348.9L874.6 349.0L875.3 349.1L876.1 349.2L876.9 349.5L877.7 349.7L878.4 350.0L879.0 350.4L879.7 350.8L880.4 351.2L881.1 351.7L881.8 352.3L882.6 352.9L883.4 353.6L884.1 354.3L884.8 354.9L885.3 355.5L885.9 356.0L886.4 356.5L887.0 356.9L887.5 357.2L888.0 357.5L888.5 357.6L889.1 357.7L889.7 357.6L890.4 357.5L890.9 357.2L891.3 356.7L891.6 356.1L891.8 355.5L891.9 355.0L891.8 354.4L891.7 353.9L891.5 353.3L891.2 352.7L890.9 352.1L890.5 351.4L890.1 350.7L889.6 350.0L889.1 349.1L888.6 348.2L888.1 347.3L887.7 346.5L887.4 345.7L887.1 345.0L886.9 344.2L886.7 343.5L886.6 342.7L886.5 341.9L886.4 341.1L886.4 340.3L886.5 339.6L886.6 338.9L886.8 338.3L887.0 337.8L887.3 337.3L887.7 337.0L888.1 336.7L888.7 336.6L889.2 336.6L889.9 336.6L890.6 336.7L891.3 336.8L892.0 337.0L892.8 337.3L893.5 337.7L894.2 338.0L894.9 338.4L895.5 338.8L896.2 339.3L896.8 339.9L897.5 340.5L898.2 341.2L899.0 342.0L899.6 342.7L900.2 343.4L900.8 344.0L901.3 344.6L901.8 345.1L902.3 345.5L902.7 345.9L903.3 346.2L903.8 346.4L904.3 346.5L904.9 346.5L905.6 346.3L906.2 346.1L906.6 345.7L907.0 345.1L907.2 344.5L907.3 344.0L907.3 343.4L907.2 342.9L907.1 342.3L906.9 341.7L906.6 341.0L906.2 340.4L905.8 339.6L905.4 338.8L905.0 337.9L904.6 337.0L904.2 336.1L903.8 335.2L903.6 334.4L903.4 333.6L903.2 332.9L903.1 332.1L903.0 331.4L903.0 330.6L903.0 329.7L903.0 329.0L903.2 328.3L903.4 327.6L903.6 327.0L903.8 326.5L904.2 326.0L904.5 325.7L905.0 325.5L905.6 325.4L906.1 325.4L906.8 325.5L907.5 325.6L908.2 325.8L908.9 326.1L909.6 326.5L910.4 326.9L911.0 327.3L911.6 327.7L912.2 328.2L912.9 328.7L913.5 329.3L914.1 330.0L914.7 330.7L915.4 331.6L916.0 332.3L916.6 333.0L917.0 333.7L917.5 334.3L918.0 334.9L918.4 335.4L918.9 335.8L919.4 336.1L919.9 336.3L920.4 336.5L921.0 336.5L921.7 336.4L922.3 336.2L922.8 335.8L923.2 335.3L923.5 334.8L923.6 334.2L923.6 333.7L923.6 333.1L923.5 332.5L923.3 331.9L923.1 331.2L922.8 330.5L922.4 329.8L922.1 328.9L921.7 328.0L921.4 327.0L921.1 326.1L920.8 325.2L920.6 324.4L920.4 323.6L920.3 322.8L920.3 322.1L920.3 321.3L920.3 320.5L920.4 319.7L920.5 318.9L920.7 318.2L920.9 317.6L921.2 317.0L921.5 316.5L921.9 316.1L922.3 315.8L922.7 315.6L923.3 315.6L923.9 315.6L924.5 315.7L925.2 315.9L925.9 316.2L926.6 316.5L927.3 317.0L928.0 317.4L928.6 317.8L929.2 318.3L929.7 318.9L930.3 319.5L930.9 320.1L931.4 320.8L932.0 321.6L932.6 322.5L933.2 323.3L933.7 324.0L934.1 324.8L934.5 325.4L934.9 326.0L935.3 326.5L935.8 326.9L936.2 327.3L936.7 327.6L937.2 327.8L937.8 327.9L938.5 327.8L939.1 327.7L939.6 327.3L940.1 326.8L940.4 326.3L940.6 325.8L940.7 325.2L940.7 324.6L940.6 324.0L940.5 323.4L940.3 322.7L940.1 322.0L939.8 321.2L939.5 320.4L939.2 319.4L939.0 318.4L938.7 317.5L938.5 316.6L938.4 315.7L938.3 314.9L938.2 314.1L938.3 313.4L938.3 312.6L938.4 311.8L938.5 311.0L938.7 310.3L939.0 309.6L939.2 309.0L939.6 308.4L939.9 307.9L940.3 307.5L940.7 307.3L941.2 307.2L941.8 307.2L942.3 307.2L943.0 307.4L943.6 307.7L944.3 308.0L945.0 308.4L945.6 308.8L946.3 309.3L946.9 309.8L947.4 310.3L947.9 310.9L948.5 311.6L949.0 312.2L949.5 313.0L950.0 313.8L950.5 314.7L951.0 315.6L951.4 316.4L951.8 317.1L952.2 317.8L952.5 318.4L952.9 319.0L953.3 319.4L953.7 319.8L954.2 320.2L954.7 320.4L955.3 320.5L955.9 320.5L956.6 320.4L957.1 320.1L957.6 319.7L958.0 319.2L958.2 318.7L958.3 318.1L958.4 317.5L958.4 316.9L958.3 316.3L958.1 315.6L958.0 314.9L957.8 314.0L957.5 313.2L957.3 312.2L957.1 311.2L957.0 310.2L956.9 309.3L956.8 308.5L956.8 307.7L956.8 306.9L956.8 306.1L957.0 305.4L957.1 304.6L957.3 303.8L957.6 303.1L957.9 302.4L958.2 301.8L958.5 301.3L958.9 300.8L959.3 300.5L959.8 300.2L960.3 300.1L960.8 300.2L961.4 300.3L962.0 300.5L962.7 300.8L963.3 301.2L963.9 301.6L964.6 302.2L965.2 302.7L965.7 303.2L966.2 303.8L966.7 304.4L967.2 305.1L967.6 305.8L968.1 306.6L968.5 307.5L969.0 308.4L969.4 309.3L969.7 310.1L970.1 310.9L970.4 311.6L970.7 312.3L971.0 312.8L971.4 313.3L971.7 313.7L972.2 314.1L972.7 314.4L973.3 314.5L973.9 314.6L974.5 314.6L975.1 314.3L975.6 313.9L976.0 313.4L976.3 312.9L976.5 312.4L976.6 311.8L976.6 311.2L976.6 310.6L976.5 309.9L976.4 309.1L976.2 308.3L976.1 307.4L976.0 306.4L975.9 305.4L975.8 304.4L975.7 303.5L975.7 302.7L975.8 301.8L975.8 301.1L976.0 300.3L976.1 299.6L976.3 298.8L976.6 298.0L976.9 297.3L977.3 296.7L977.6 296.1L978.0 295.6L978.5 295.2L978.9 294.9L979.4 294.7L979.9 294.6L980.4 294.7L981.0 294.9L981.6 295.2L982.2 295.5L982.8 295.9L983.4 296.4L984.0 297.0L984.5 297.6L985.0 298.1L985.5 298.7L985.9 299.4L986.3 300.1L986.7 300.9L987.1 301.7L987.5 302.6L987.9 303.6L988.2 304.5L988.5 305.3L988.7 306.1L989.0 306.9L989.3 307.5L989.5 308.1L989.9 308.6L990.2 309.1L990.6 309.5L991.1 309.8L991.7 310.0L992.3 310.1L992.9 310.1L993.5 309.9L994.1 309.5L994.5 309.1L994.8 308.6L995.0 308.1L995.2 307.5L995.3 306.9L995.3 306.3L995.3 305.6L995.2 304.8L995.1 304.0L995.1 303.1L995.0 302.1L995.0 301.1L995.0 300.1L995.0 299.2L995.1 298.3L995.2 297.5L995.3 296.8L995.5 296.0L995.7 295.3L996.0 294.5L996.3 293.8L996.7 293.1L997.1 292.5L997.5 291.9L997.9 291.5L998.4 291.1L998.8 290.8L999.3 290.7L999.8 290.7L1000.4 290.8L1000.9 291.0L1001.5 291.3L1002.1 291.7L1002.6 292.2L1003.2 292.7L1003.7 293.3L1004.2 293.9L1004.7 294.5L1005.1 295.2L1005.5 295.9L1005.8 296.6L1006.2 297.4L1006.5 298.2L1006.8 299.2L1007.1 300.2L1007.4 301.1L1007.6 302.0L1007.8 302.8L1008.0 303.6L1008.2 304.2L1008.4 304.8L1008.7 305.4L1009.0 305.9L1009.3 306.3L1009.8 306.6L1010.4 306.9L1011.0 307.1L1011.6 307.1L1012.2 306.9L1012.8 306.6L1013.3 306.2L1013.6 305.8L1013.9 305.3L1014.1 304.7L1014.2 304.1L1014.3 303.5L1014.3 302.8L1014.3 302.0L1014.3 301.2L1014.3 300.3L1014.3 299.3L1014.4 298.3L1014.4 297.3L1014.5 296.4L1014.7 295.5L1014.8 294.7L1015.0 294.0L1015.3 293.3L1015.6 292.6L1015.9 291.8L1016.3 291.1L1016.7 290.4L1017.1 289.9L1017.6 289.3L1018.1 288.9L1018.5 288.6L1019.0 288.3L1019.5 288.2L1020.0 288.2L1020.6 288.4L1021.1 288.7L1021.6 289.0L1022.2 289.5L1022.7 290.0L1023.2 290.5L1023.7 291.2L1024.2 291.8L1024.6 292.5L1024.9 293.2L1025.2 293.9L1025.5 294.6L1025.8 295.4L1026.1 296.3L1026.3 297.3L1026.5 298.3L1026.7 299.3L1026.9 300.1L1027.0 301.0L1027.1 301.7L1027.3 302.4L1027.5 303.0L1027.7 303.6L1028.0 304.1L1028.3 304.6L1028.7 304.9L1029.2 305.2L1029.9 305.5Z" stroke-width="2.20" />
<ellipse cx="1041.0" cy="543.8" rx="12.5" ry="12.3" stroke-width="2.15"/>
<ellipse cx="1041.0" cy="543.8" rx="47.3" ry="46.7" stroke-width="3.60"/>
<path d="M1026.3 750.7L1020.9 750.3L1015.5 749.7L1010.1 749.0L1004.7 748.1L999.4 747.1L994.0 746.0L988.7 744.7L983.5 743.3L978.3 741.8L973.1 740.1L968.0 738.3L962.9 736.3L957.9 734.3L952.9 732.1L948.0 729.7L943.1 727.3L938.3 724.7L933.6 722.0L929.0 719.2L924.4 716.3L919.9 713.2L915.5 710.0L911.2 706.8L907.0 703.4L902.8 699.9L898.8 696.3L894.8 692.6L891.0 688.8L887.2 684.9L883.6 680.9L880.0 676.8L876.6 672.6L873.2 668.3L870.0 664.0L866.9 659.6L864.0 655.0L861.1 650.5L858.4 645.8L855.7 641.1L853.3 636.3L850.9 631.4L848.7 626.5L846.5 621.6L961.6 584.6L962.7 586.6L963.8 588.6L965.0 590.5L966.2 592.5L967.5 594.3L968.9 596.2L970.3 598.0L971.7 599.8L973.2 601.5L974.7 603.3L976.3 604.9L977.9 606.5L979.5 608.1L981.2 609.7L983.0 611.2L984.7 612.6L986.6 614.0L988.4 615.4L990.3 616.7L992.2 618.0L994.1 619.2L996.1 620.4L998.1 621.5L1000.2 622.6L1002.2 623.6L1004.3 624.5L1006.4 625.4L1008.6 626.3L1010.7 627.1L1012.9 627.8L1015.1 628.5L1017.3 629.2L1019.6 629.7L1021.8 630.2L1024.1 630.7L1026.3 631.1Z" stroke-width="2.15" />
<path d="M837.5 593.9L836.2 588.7L835.1 583.4L834.1 578.1L833.3 572.8L832.6 567.5L832.1 562.1L831.7 556.7L831.4 551.3L831.3 546.0L831.3 540.6L831.4 535.2L831.7 529.8L832.2 524.4L832.7 519.1L833.5 513.7L834.3 508.4L835.3 503.1L836.5 497.9L837.7 492.6L839.1 487.4L840.7 482.3L842.4 477.1L844.2 472.1L846.1 467.0L848.2 462.1L850.4 457.1L852.8 452.3L855.2 447.5L857.8 442.7L860.5 438.1L863.4 433.5L866.3 428.9L869.4 424.5L872.6 420.1L875.9 415.8L879.3 411.6L882.8 407.5L886.5 403.5L890.2 399.6L894.0 395.8L898.0 392.1L902.0 388.4L906.1 384.9L977.2 481.7L975.6 483.3L974.1 485.0L972.6 486.8L971.1 488.5L969.7 490.3L968.3 492.1L967.0 494.0L965.7 495.9L964.5 497.8L963.3 499.8L962.2 501.8L961.2 503.8L960.1 505.9L959.2 507.9L958.3 510.0L957.4 512.2L956.6 514.3L955.9 516.4L955.2 518.6L954.6 520.8L954.0 523.0L953.5 525.2L953.0 527.5L952.6 529.7L952.3 532.0L952.0 534.2L951.8 536.5L951.7 538.8L951.6 541.1L951.5 543.3L951.5 545.6L951.6 547.9L951.7 550.2L951.9 552.4L952.2 554.7L952.5 557.0Z" stroke-width="2.15" />
<path d="M929.9 367.8L934.5 365.1L939.3 362.4L944.1 359.8L948.9 357.4L953.9 355.1L958.8 352.9L963.9 350.9L969.0 349.0L974.1 347.2L979.3 345.5L984.5 344.0L989.8 342.6L995.1 341.4L1000.4 340.3L1005.8 339.3L1011.1 338.5L1016.5 337.8L1022.0 337.2L1027.4 336.8L1032.8 336.5L1038.3 336.4L1043.7 336.4L1049.2 336.5L1054.6 336.8L1060.0 337.2L1065.5 337.8L1070.9 338.5L1076.2 339.3L1081.6 340.3L1086.9 341.4L1092.2 342.6L1097.5 344.0L1102.7 345.5L1107.9 347.2L1113.0 349.0L1118.1 350.9L1123.2 352.9L1128.1 355.1L1133.1 357.4L1137.9 359.8L1142.7 362.4L1147.5 365.1L1152.1 367.8L1081.0 464.6L1078.9 463.6L1076.8 462.7L1074.7 461.8L1072.6 461.0L1070.4 460.2L1068.2 459.5L1066.0 458.8L1063.8 458.2L1061.6 457.7L1059.3 457.2L1057.0 456.7L1054.8 456.3L1052.5 456.0L1050.2 455.8L1047.9 455.6L1045.6 455.4L1043.3 455.3L1041.0 455.3L1038.7 455.3L1036.4 455.4L1034.1 455.6L1031.8 455.8L1029.5 456.0L1027.2 456.3L1025.0 456.7L1022.7 457.2L1020.4 457.7L1018.2 458.2L1016.0 458.8L1013.8 459.5L1011.6 460.2L1009.4 461.0L1007.3 461.8L1005.2 462.7L1003.1 463.6L1001.0 464.6Z" stroke-width="2.15" />
<path d="M1175.9 384.9L1180.0 388.4L1184.0 392.1L1188.0 395.8L1191.8 399.6L1195.5 403.5L1199.2 407.5L1202.7 411.6L1206.1 415.8L1209.4 420.1L1212.6 424.5L1215.7 428.9L1218.6 433.5L1221.5 438.1L1224.2 442.7L1226.8 447.5L1229.2 452.3L1231.6 457.1L1233.8 462.1L1235.9 467.0L1237.8 472.1L1239.6 477.1L1241.3 482.3L1242.9 487.4L1244.3 492.6L1245.5 497.9L1246.7 503.1L1247.7 508.4L1248.5 513.7L1249.3 519.1L1249.8 524.4L1250.3 529.8L1250.6 535.2L1250.7 540.6L1250.7 546.0L1250.6 551.3L1250.3 556.7L1249.9 562.1L1249.4 567.5L1248.7 572.8L1247.9 578.1L1246.9 583.4L1245.8 588.7L1244.5 593.9L1129.5 557.0L1129.8 554.7L1130.1 552.4L1130.3 550.2L1130.4 547.9L1130.5 545.6L1130.5 543.3L1130.4 541.1L1130.3 538.8L1130.2 536.5L1130.0 534.2L1129.7 532.0L1129.4 529.7L1129.0 527.5L1128.5 525.2L1128.0 523.0L1127.4 520.8L1126.8 518.6L1126.1 516.4L1125.4 514.3L1124.6 512.2L1123.7 510.0L1122.8 507.9L1121.9 505.9L1120.8 503.8L1119.8 501.8L1118.7 499.8L1117.5 497.8L1116.3 495.9L1115.0 494.0L1113.7 492.1L1112.3 490.3L1110.9 488.5L1109.4 486.8L1107.9 485.0L1106.4 483.3L1104.8 481.7Z" stroke-width="2.15" />
<path d="M1235.5 621.6L1233.3 626.5L1231.1 631.4L1228.7 636.3L1226.3 641.1L1223.6 645.8L1220.9 650.5L1218.0 655.0L1215.1 659.6L1212.0 664.0L1208.8 668.3L1205.4 672.6L1202.0 676.8L1198.4 680.9L1194.8 684.9L1191.0 688.8L1187.2 692.6L1183.2 696.3L1179.2 699.9L1175.0 703.4L1170.8 706.8L1166.5 710.0L1162.1 713.2L1157.6 716.3L1153.0 719.2L1148.4 722.0L1143.7 724.7L1138.9 727.3L1134.0 729.7L1129.1 732.1L1124.1 734.3L1119.1 736.3L1114.0 738.3L1108.9 740.1L1103.7 741.8L1098.5 743.3L1093.3 744.7L1088.0 746.0L1082.6 747.1L1077.3 748.1L1071.9 749.0L1066.5 749.7L1061.1 750.3L1055.7 750.7L1055.7 631.1L1057.9 630.7L1060.2 630.2L1062.4 629.7L1064.7 629.2L1066.9 628.5L1069.1 627.8L1071.3 627.1L1073.4 626.3L1075.6 625.4L1077.7 624.5L1079.8 623.6L1081.8 622.6L1083.9 621.5L1085.9 620.4L1087.9 619.2L1089.8 618.0L1091.7 616.7L1093.6 615.4L1095.4 614.0L1097.3 612.6L1099.0 611.2L1100.8 609.7L1102.5 608.1L1104.1 606.5L1105.7 604.9L1107.3 603.3L1108.8 601.5L1110.3 599.8L1111.7 598.0L1113.1 596.2L1114.5 594.3L1115.8 592.5L1117.0 590.5L1118.2 588.6L1119.3 586.6L1120.4 584.6Z" stroke-width="2.15" />
<path d="M757.8 686.6L766.6 707.6L777.8 687.8L784.3 709.6L797.6 691.1L801.7 713.4L816.9 696.4L818.6 719.0L835.5 703.7L834.8 726.3L853.2 712.9L850.2 735.3L869.9 723.8L864.5 745.8L885.4 736.4L877.7 757.8L899.4 750.6L889.5 771.0L911.8 766.1L899.8 785.4L922.6 782.8L908.6 800.7L931.5 800.5L915.7 816.9L938.5 819.1L921.0 833.7L943.5 838.2L924.6 851.0L946.4 857.8L926.3 868.6L947.3 877.6L926.1 886.2L946.0 897.4L924.1 903.8L942.7 916.9L920.2 921.0L937.4 936.0L914.5 937.7L930.0 954.4L907.1 953.8L920.7 972.0L898.0 969.0L909.7 988.5L887.4 983.1L896.9 1003.7L875.4 996.1L882.6 1017.6L862.0 1007.8L867.0 1029.9L847.4 1018.0L850.1 1040.6L831.9 1026.7L832.1 1049.4L815.5 1033.7L813.4 1056.3L798.5 1039.0L794.0 1061.2L781.0 1042.5L774.2 1064.1L763.3 1044.2L754.2 1065.0L745.4 1044.0L734.2 1063.8L727.7 1042.0L714.4 1060.5L710.3 1038.2L695.1 1055.2L693.4 1032.6L676.5 1047.9L677.2 1025.3L658.8 1038.7L661.8 1016.3L642.1 1027.8L647.5 1005.8L626.6 1015.2L634.3 993.8L612.6 1001.0L622.5 980.6L600.2 985.5L612.2 966.2L589.4 968.8L603.4 950.9L580.5 951.1L596.3 934.7L573.5 932.5L591.0 917.9L568.5 913.4L587.4 900.6L565.6 893.8L585.7 883.0L564.7 874.0L585.9 865.4L566.0 854.2L587.9 847.8L569.3 834.7L591.8 830.6L574.6 815.6L597.5 813.9L582.0 797.2L604.9 797.8L591.3 779.6L614.0 782.6L602.3 763.1L624.6 768.5L615.1 747.9L636.6 755.5L629.4 734.0L650.0 743.8L645.0 721.7L664.6 733.6L661.9 711.0L680.1 724.9L679.9 702.2L696.5 717.9L698.6 695.3L713.5 712.6L718.0 690.4L731.0 709.1L737.8 687.5L748.7 707.4Z" stroke-width="2.10" stroke-linejoin="miter"/>
<ellipse cx="756.0" cy="875.8" rx="42.9" ry="42.5" stroke-width="2.15"/>
<ellipse cx="756.0" cy="875.8" rx="51.5" ry="50.9" stroke-width="2.15"/>
<path d="M732.1 1027.6L728.1 1027.0L724.2 1026.2L720.3 1025.3L716.5 1024.4L712.6 1023.3L708.8 1022.2L705.1 1021.0L701.3 1019.6L697.6 1018.2L693.9 1016.7L690.3 1015.0L686.7 1013.3L683.2 1011.5L679.7 1009.6L676.2 1007.7L672.9 1005.6L669.5 1003.4L666.2 1001.2L663.0 998.9L659.9 996.5L656.8 994.0L653.7 991.5L650.8 988.8L647.9 986.1L645.1 983.4L642.3 980.5L639.6 977.6L637.0 974.6L634.5 971.6L632.1 968.4L629.7 965.3L627.4 962.0L625.2 958.8L623.1 955.4L621.1 952.0L619.2 948.6L617.3 945.1L615.6 941.6L613.9 938.0L612.4 934.3L610.9 930.7L609.5 927.0L686.7 907.5L687.5 909.3L688.4 911.1L689.4 912.8L690.4 914.5L691.4 916.2L692.5 917.9L693.6 919.5L694.8 921.1L696.0 922.7L697.3 924.2L698.6 925.7L699.9 927.2L701.3 928.6L702.7 930.0L704.2 931.4L705.7 932.7L707.2 934.0L708.7 935.2L710.3 936.4L711.9 937.6L713.6 938.7L715.3 939.7L717.0 940.8L718.7 941.8L720.5 942.7L722.2 943.6L724.0 944.5L725.9 945.3L727.7 946.0L729.6 946.7L731.5 947.4L733.4 948.0L735.3 948.5L737.2 949.1Z" stroke-width="2.15" />
<path d="M602.6 900.2L602.0 896.3L601.6 892.4L601.2 888.5L600.9 884.5L600.7 880.6L600.7 876.7L600.7 872.7L600.8 868.8L601.0 864.9L601.4 860.9L601.8 857.0L602.4 853.1L603.0 849.2L603.7 845.4L604.6 841.5L605.5 837.7L606.5 833.9L607.7 830.1L608.9 826.4L610.2 822.7L611.7 819.0L613.2 815.3L614.8 811.7L616.5 808.2L618.3 804.7L620.2 801.2L622.2 797.8L624.2 794.4L626.4 791.1L628.6 787.9L630.9 784.7L633.3 781.5L635.8 778.4L638.4 775.4L641.0 772.5L643.7 769.6L646.5 766.8L649.4 764.0L652.3 761.4L655.3 758.8L658.4 756.3L661.5 753.8L704.0 820.4L702.6 821.7L701.2 823.1L699.8 824.6L698.5 826.0L697.2 827.5L695.9 829.1L694.7 830.7L693.5 832.3L692.4 833.9L691.3 835.5L690.3 837.2L689.3 838.9L688.3 840.7L687.4 842.4L686.6 844.2L685.8 846.0L685.0 847.9L684.3 849.7L683.6 851.6L683.0 853.4L682.4 855.3L681.9 857.2L681.5 859.2L681.0 861.1L680.7 863.0L680.4 865.0L680.1 867.0L679.9 868.9L679.7 870.9L679.6 872.9L679.6 874.8L679.6 876.8L679.6 878.8L679.7 880.8Z" stroke-width="2.15" />
<path d="M685.1 739.1L688.7 737.3L692.3 735.7L696.0 734.1L699.7 732.6L703.4 731.2L707.2 729.9L710.9 728.8L714.8 727.7L718.6 726.7L722.5 725.8L726.4 725.0L730.3 724.3L734.3 723.7L738.2 723.2L742.2 722.8L746.1 722.5L750.1 722.3L754.1 722.2L758.1 722.2L762.0 722.3L766.0 722.5L770.0 722.8L774.0 723.2L777.9 723.7L781.8 724.3L785.8 725.0L789.7 725.8L793.5 726.7L797.4 727.7L801.2 728.8L805.0 730.0L808.8 731.3L812.5 732.7L816.2 734.1L819.8 735.7L823.4 737.4L827.0 739.1L830.5 741.0L834.0 742.9L837.4 744.9L840.8 747.0L844.1 749.2L793.2 809.8L791.5 808.9L789.7 808.0L787.9 807.1L786.1 806.3L784.2 805.6L782.4 804.9L780.5 804.2L778.6 803.6L776.7 803.0L774.7 802.5L772.8 802.1L770.8 801.7L768.9 801.3L766.9 801.0L764.9 800.7L762.9 800.5L760.9 800.4L758.9 800.3L756.9 800.2L754.9 800.2L752.9 800.3L751.0 800.4L749.0 800.5L747.0 800.7L745.0 801.0L743.0 801.3L741.1 801.7L739.1 802.1L737.2 802.6L735.2 803.1L733.3 803.6L731.4 804.2L729.5 804.9L727.7 805.6Z" stroke-width="2.15" />
<path d="M865.6 766.9L868.4 769.7L871.1 772.6L873.7 775.5L876.3 778.6L878.8 781.6L881.2 784.8L883.5 788.0L885.7 791.2L887.9 794.6L889.9 797.9L891.9 801.3L893.8 804.8L895.6 808.3L897.3 811.9L898.9 815.5L900.4 819.1L901.8 822.8L903.1 826.5L904.4 830.3L905.5 834.0L906.5 837.8L907.5 841.7L908.3 845.5L909.0 849.4L909.7 853.3L910.2 857.2L910.6 861.1L911.0 865.0L911.2 869.0L911.3 872.9L911.3 876.8L911.3 880.8L911.1 884.7L910.8 888.6L910.4 892.6L909.9 896.5L909.4 900.4L908.7 904.2L907.9 908.1L907.0 911.9L906.0 915.7L904.9 919.5L831.0 890.4L831.3 888.5L831.6 886.5L831.9 884.6L832.1 882.6L832.3 880.6L832.4 878.7L832.4 876.7L832.4 874.7L832.4 872.7L832.2 870.8L832.1 868.8L831.9 866.8L831.6 864.9L831.3 862.9L830.9 861.0L830.5 859.1L830.1 857.1L829.5 855.2L829.0 853.3L828.3 851.5L827.7 849.6L827.0 847.7L826.2 845.9L825.4 844.1L824.5 842.3L823.6 840.6L822.7 838.8L821.7 837.1L820.6 835.4L819.5 833.8L818.4 832.2L817.2 830.6L816.0 829.0L814.7 827.5Z" stroke-width="2.15" />
<path d="M894.6 945.2L892.7 948.7L890.8 952.2L888.8 955.5L886.7 958.9L884.5 962.2L882.2 965.4L879.8 968.6L877.4 971.7L874.9 974.7L872.3 977.7L869.6 980.6L866.8 983.5L864.0 986.2L861.1 988.9L858.1 991.6L855.1 994.1L852.0 996.6L848.9 999.0L845.6 1001.3L842.3 1003.5L839.0 1005.7L835.6 1007.7L832.2 1009.7L828.7 1011.6L825.1 1013.4L821.5 1015.1L817.9 1016.7L814.2 1018.2L810.5 1019.7L806.8 1021.0L803.0 1022.2L799.2 1023.4L795.4 1024.4L791.5 1025.4L787.6 1026.2L783.7 1027.0L779.8 1027.6L775.8 1028.2L771.9 1028.6L767.9 1029.0L763.9 1029.2L760.0 1029.4L765.1 950.8L767.1 950.6L769.1 950.3L771.0 949.9L773.0 949.5L774.9 949.0L776.8 948.5L778.8 948.0L780.7 947.3L782.5 946.7L784.4 946.0L786.2 945.2L788.1 944.4L789.9 943.6L791.6 942.7L793.4 941.7L795.1 940.7L796.8 939.7L798.5 938.6L800.2 937.5L801.8 936.3L803.4 935.1L804.9 933.9L806.4 932.6L807.9 931.3L809.4 929.9L810.8 928.5L812.1 927.1L813.5 925.6L814.8 924.1L816.0 922.6L817.2 921.0L818.4 919.4L819.5 917.8L820.6 916.1Z" stroke-width="2.15" />
<path d="M726.0 801.0L727.8 800.1L730.2 799.0L733.1 797.6L736.2 796.0L739.3 794.5L742.0 793.0L744.5 791.5L747.0 790.0L749.4 788.5L751.8 787.0L754.0 785.5L756.0 784.0L757.8 782.6L759.4 781.3L760.9 780.1L762.3 778.8L763.7 777.4L765.0 776.0L766.3 774.4L767.6 772.7L768.8 771.0L770.0 769.3L771.0 767.6L772.0 766.0L772.8 764.6L773.6 763.3L774.2 762.0L774.8 760.7L775.4 759.4L776.0 758.0L776.7 756.4L777.4 754.8L778.1 753.1L778.7 751.4L779.4 749.7L780.0 748.0L780.5 746.4L781.0 744.7L781.4 743.1L781.9 741.5L782.4 739.8L783.0 738.0L783.7 736.1L784.4 734.1L785.2 732.1L786.1 730.0L787.0 728.0L788.0 726.0L789.1 724.1L790.2 722.2L791.4 720.3L792.6 718.5L793.8 716.7L795.0 715.0L796.1 713.4L797.3 712.0L798.4 710.6L799.5 709.2L800.7 707.7L802.0 706.0L803.4 704.2L804.8 702.3L806.2 700.3L807.7 698.1L809.3 695.7L811.0 693.0L812.7 689.8L814.4 686.2L816.2 682.4L818.1 678.4L820.2 674.6L822.5 671.0L825.1 667.6L828.0 664.3L831.0 661.0L834.1 657.9L837.1 654.8L840.0 652.0L842.7 649.4L845.2 647.0L847.6 644.8L850.1 642.6L852.7 640.4L855.5 638.0L858.6 635.4L861.9 632.6L865.3 629.7L868.7 626.9L872.0 624.3L875.0 622.0L877.8 620.1L880.6 618.4L883.2 616.9L885.6 615.5L887.9 614.2L890.0 613.0L891.9 611.8L893.5 610.8L895.0 609.9L896.4 609.0L897.7 608.0L899.0 607.0L900.3 605.9L901.5 604.9L902.7 603.8L903.8 602.6L904.9 601.4L906.0 600.0L907.1 598.5L908.1 597.0L909.2 595.3L910.2 593.6L911.1 591.8L912.0 590.0L912.8 588.1L913.7 586.1L914.4 584.1L915.1 582.1L915.8 580.0L916.3 578.0L916.8 576.0L917.1 574.0L917.4 571.9L917.7 569.9L917.8 567.9L918.0 566.0L918.1 564.1L918.1 562.3L918.1 560.4L918.1 558.6L918.0 556.8L918.0 555.0L918.0 553.1L917.9 551.2L917.8 549.3L917.8 547.3L917.7 545.5L917.7 543.8L917.7 542.1L917.8 540.4L917.8 538.8L917.9 537.3L918.0 536.1L918.0 535.2L918.3 532.0L918.6 528.8L919.0 525.7L919.6 522.5L920.1 519.4L920.8 516.2L921.6 513.1L922.4 510.0L923.3 507.0L924.3 503.9L925.4 500.9L926.5 497.9L927.8 495.0L929.1 492.1L930.5 489.2L931.9 486.3L933.4 483.5L935.0 480.7L936.7 478.0L938.5 475.3L940.3 472.7L942.1 470.1L944.1 467.6L946.1 465.1L948.2 462.6L950.3 460.3L952.5 457.9L954.8 455.7L957.1 453.5L959.5 451.3L961.9 449.2L964.4 447.2L966.9 445.3L969.5 443.4L972.1 441.5L974.8 439.8L977.5 438.1L980.3 436.5L983.1 435.0L985.9 433.5L988.8 432.1L991.7 430.8L994.7 429.5L997.6 428.4L1000.6 427.3L1003.7 426.3L1006.7 425.4L1009.8 424.5L1012.9 423.7L1016.1 423.1L1019.2 422.4L1022.3 421.9L1025.5 421.5L1028.7 421.1L1031.9 420.8L1035.1 420.6L1038.3 420.5L1041.5 420.5L1044.7 420.6L1047.9 420.7L1051.1 420.9L1054.2 421.2L1057.4 421.6L1060.6 422.1L1063.7 422.6L1066.9 423.2L1070.0 424.0L1073.1 424.7L1076.2 425.6L1079.2 426.6L1082.2 427.6L1085.2 428.7L1088.2 429.9L1091.2 431.2L1094.1 432.5L1096.9 433.9L1099.8 435.4L1102.6 437.0L1105.3 438.6L1108.0 440.3L1110.7 442.1L1113.3 443.9L1115.9 445.8L1118.4 447.8L1120.8 449.8L1123.2 451.9L1125.6 454.1L1127.9 456.3L1130.1 458.6L1076.1 510.3" stroke-width="2.15" />
<path d="M1074.7 578.7L1102.8 607.8" stroke-width="2.15" />
<path d="M1027.1 636.8L1024.7 636.4L1022.3 635.9L1019.9 635.4L1017.5 634.8L1015.2 634.2L1012.8 633.5L1010.5 632.7L1008.2 631.9L1005.9 631.0L1003.6 630.1L1001.4 629.1L999.2 628.0L997.0 626.9L994.9 625.7L992.8 624.5L990.7 623.2L988.6 621.9L986.6 620.5L984.6 619.0L982.7 617.5L980.8 616.0L978.9 614.4L977.1 612.8L975.3 611.1L973.6 609.3L971.9 607.6L970.3 605.7L968.7 603.9L967.2 602.0L965.7 600.0L964.2 598.1L962.9 596.0L961.5 594.0L960.2 591.9L959.0 589.8L957.8 587.6L956.7 585.5L955.7 583.2L954.7 581.0L953.7 578.8L952.9 576.5L952.0 574.2L951.3 571.8L950.6 569.5L949.9 567.1L949.4 564.8L948.9 562.4L948.4 560.0L948.0 557.5L947.7 555.1L947.4 552.7L947.2 550.2L947.1 547.8L947.0 545.3L947.0 542.9L947.1 540.5L947.2 538.0L947.4 535.6L947.6 533.1L947.9 530.7L948.3 528.3L948.7 525.9L949.2 523.5L949.8 521.1L950.4 518.7L951.1 516.4L951.8 514.1L952.6 511.7L953.5 509.5L954.4 507.2L955.4 504.9L956.4 502.7L957.5 500.5L958.7 498.4L959.9 496.3L961.2 494.2L962.5 492.1L963.9 490.1L965.3 488.1L966.8 486.1L968.3 484.2L969.9 482.3L971.5 480.5L973.2 478.7L974.9 477.0L976.6 475.3L978.4 473.6L980.3 472.0L982.2 470.5L984.1 469.0L986.1 467.5L988.1 466.1L990.1 464.8L992.2 463.5L994.3 462.2L996.5 461.0L998.6 459.9L1000.8 458.8L1003.0 457.8L1005.3 456.8L1007.6 455.9L1009.9 455.1L1012.2 454.3L1014.5 453.6L1016.9 452.9L1019.3 452.3L1021.6 451.8L1024.1 451.3L1026.5 450.9L1028.9 450.6L1031.3 450.3L1033.8 450.1L1036.2 449.9L1038.6 449.8L1041.1 449.8L1043.5 449.8L1046.0 449.9L1048.4 450.1L1050.9 450.3L1053.3 450.6L1055.7 451.0L1058.1 451.4L1060.5 451.9L1062.9 452.4L1065.3 453.0L1067.6 453.7L1070.0 454.4L1072.3 455.2L1074.6 456.0L1076.9 456.9L1079.1 457.9L1081.3 458.9L1083.5 460.0L1085.7 461.1L1087.8 462.3L1089.9 463.6L1092.0 464.9L1094.1 466.2L1096.1 467.6L1098.0 469.1L1100.0 470.6L1101.8 472.1L1103.7 473.8L1105.5 475.4L1107.2 477.1L1109.0 478.9" stroke-width="2.15" />
<path d="M1055.7 631.1L1053.6 631.4L1051.5 631.7L1049.4 631.9L1047.4 632.1L1045.3 632.2L1043.2 632.3L1041.1 632.3L1039.0 632.3" stroke-width="2.15" />
<path d="M1026.5 634.5L1038.0 634.5" stroke-width="2.15" />
<path d="M1039.0 632.0L1038.0 674.0L1026.5 673.0" stroke-width="2.15" />
<path d="M1026.5 672.6L1023.5 672.1L1019.4 671.3L1014.5 670.4L1009.3 669.5L1004.3 668.6L1000.0 668.0L996.3 667.5L992.9 667.1L989.6 666.8L986.4 666.5L983.3 666.4L980.0 666.4L976.7 666.6L973.3 666.8L970.0 667.2L966.7 667.7L963.3 668.3L960.0 669.0L956.7 669.8L953.3 670.6L950.0 671.6L946.7 672.7L943.3 673.8L940.0 675.0L936.7 676.3L933.3 677.7L930.0 679.2L926.7 680.7L923.3 682.3L920.0 684.0L916.7 685.6L913.3 687.3L910.0 689.0L906.7 690.8L903.3 692.8L900.0 695.0L896.6 697.5L893.1 700.3L889.6 703.2L886.2 706.2L883.0 709.2L880.0 712.0L877.3 714.7L874.7 717.3L872.4 719.8L870.1 722.4L868.0 725.1L866.0 728.0L864.1 731.1L862.4 734.2L860.8 737.5L859.2 740.9L857.6 744.4L856.0 748.0L854.3 751.7L852.6 755.6L850.8 759.5L849.1 763.6L847.5 767.7L846.0 772.0L844.6 776.4L843.3 781.0L842.1 785.6L841.0 790.4L840.0 795.2L839.0 800.0L838.1 804.9L837.3 809.9L836.6 814.9L836.0 819.9L835.4 825.0L835.0 830.0L834.7 835.0L834.4 840.0L834.3 845.0L834.2 850.0L834.3 855.0L834.4 860.0L834.6 865.2L835.0 870.7L835.5 876.2L836.0 881.5L836.5 886.2L837.0 890.0L837.5 892.8L837.9 894.6L838.4 895.9L838.9 897.0L839.4 898.2L840.0 900.0L840.6 902.2L841.1 904.6L841.7 907.1L842.3 909.9L843.1 912.8L844.0 916.0L845.1 919.6L846.3 923.6L847.6 927.8L849.0 932.0L850.5 936.1L852.0 940.0L853.5 943.5L855.0 946.9L856.6 950.1L858.3 953.3L860.1 956.6L862.0 960.0L864.1 963.6L866.3 967.3L868.6 971.0L871.0 974.7L873.5 978.4L876.0 982.0L878.5 985.5L881.1 988.9L883.8 992.2L886.4 995.6L889.2 998.8L892.0 1002.0L894.9 1005.1L897.8 1008.2L900.8 1011.2L903.8 1014.2L906.9 1017.1L910.0 1020.0L913.2 1022.8L916.5 1025.6L919.9 1028.4L923.3 1031.0L926.6 1033.6L930.0 1036.0L933.3 1038.3L936.7 1040.4L940.0 1042.5L943.3 1044.4L946.7 1046.3L950.0 1048.0L953.3 1049.6L956.7 1051.1L960.0 1052.4L963.3 1053.7L966.7 1054.9L970.0 1056.0L973.3 1057.0L976.6 1058.0L979.9 1058.8L983.3 1059.6L986.6 1060.3L990.0 1061.0L993.7 1061.7L997.7 1062.3L1001.8 1062.8L1005.5 1063.3L1008.7 1063.7L1011.0 1064.0L1011.2 1065.7L1011.6 1068.0L1011.9 1070.8L1012.3 1073.8L1012.7 1076.9L1013.0 1080.0L1013.2 1083.1L1013.4 1086.4L1013.6 1089.8L1013.8 1093.2L1013.9 1096.6L1014.0 1100.0L1014.1 1103.3L1014.1 1106.7L1014.1 1110.0L1014.1 1113.3L1014.1 1116.7L1014.0 1120.0L1013.9 1123.3L1013.8 1126.7L1013.6 1130.0L1013.4 1133.3L1013.2 1136.7L1013.0 1140.0L1012.7 1143.3L1012.5 1146.7L1012.2 1150.0L1011.9 1153.3L1011.5 1156.7L1011.0 1160.0L1010.5 1163.3L1009.9 1166.7L1009.2 1170.0L1008.5 1173.3L1007.7 1176.7L1007.0 1180.0L1006.2 1183.4L1005.4 1186.8L1004.6 1190.2L1003.7 1193.6L1002.8 1196.9L1002.0 1200.0L1001.2 1202.8L1000.5 1205.3L999.8 1207.8L999.0 1210.2L998.1 1212.9L997.0 1216.0L995.8 1219.5L994.4 1223.3L992.9 1227.4L991.4 1231.6L989.7 1235.8L988.0 1240.0L986.2 1244.2L984.4 1248.5L982.4 1252.9L980.4 1257.3L978.3 1261.6L976.0 1266.0L973.6 1270.3L971.1 1274.7L968.5 1279.0L965.8 1283.3L962.9 1287.7L960.0 1292.0L956.9 1296.4L953.6 1300.8L950.2 1305.2L946.8 1309.6L943.4 1313.9L940.0 1318.0L936.7 1321.9L933.3 1325.8L930.0 1329.5L926.7 1333.1L923.3 1336.6L920.0 1340.0L916.7 1343.3L913.3 1346.4L910.0 1349.4L906.7 1352.3L903.3 1355.2L900.0 1358.0L896.7 1360.8L893.3 1363.5L890.0 1366.2L886.7 1368.7L883.3 1371.2L880.0 1373.6L876.7 1375.9L873.3 1378.0L870.0 1380.1L866.7 1382.1L863.3 1384.1L860.0 1386.0L856.7 1387.9L853.3 1389.8L850.0 1391.7L846.7 1393.5L843.3 1395.3L840.0 1397.0L836.7 1398.6L833.3 1400.2L830.0 1401.7L826.7 1403.2L823.3 1404.6L820.0 1406.0L816.7 1407.4L813.3 1408.7L810.0 1410.0L806.7 1411.2L803.3 1412.4L800.0 1413.6L796.7 1414.7L793.3 1415.9L790.0 1416.9L786.7 1418.0L783.3 1419.0L780.0 1420.0L776.7 1421.0L773.3 1422.0L770.0 1423.0L766.7 1423.9L763.3 1424.8L760.0 1425.6L756.7 1426.3L753.3 1426.9L750.0 1427.5L746.7 1428.0L743.3 1428.5L740.0 1429.0L736.7 1429.5L733.3 1430.1L730.0 1430.6L726.7 1431.1L723.3 1431.6L720.0 1432.0L716.7 1432.4L713.3 1432.7L710.0 1433.0L706.7 1433.2L703.3 1433.4L700.0 1433.6L696.8 1433.7L693.7 1433.8L690.6 1433.9L687.4 1433.9L683.9 1433.8L680.0 1433.6L675.6 1433.3L670.7 1433.0L665.6 1432.6L660.4 1432.1L655.1 1431.6L650.0 1431.0L644.9 1430.3L639.6 1429.5L634.4 1428.7L629.3 1427.8L624.4 1426.9L620.0 1426.0L616.2 1425.2L612.9 1424.5L609.9 1423.8L606.9 1423.0L603.7 1422.1L600.0 1421.0L595.6 1419.6L590.7 1417.9L585.6 1416.1L580.6 1414.3L575.9 1412.6L572.0 1411.0L568.8 1409.7L566.1 1408.6L563.9 1407.6L561.9 1406.5L559.9 1405.4L558.0 1404.0L556.0 1402.3L554.0 1400.2L552.1 1398.1L550.4 1396.0L549.0 1394.2L548.0 1393.0L483.0 1331.0L575.0 1350.4L576.3 1350.6L578.0 1350.8L580.1 1351.1L582.5 1351.6L585.2 1352.2L588.0 1353.0L591.2 1354.1L594.7 1355.6L598.6 1357.2L602.5 1358.8L606.3 1360.5L610.0 1362.0L613.3 1363.4L616.4 1364.8L619.5 1366.2L622.7 1367.5L626.1 1368.8L630.0 1370.0L634.5 1371.2L639.6 1372.3L645.0 1373.4L650.4 1374.4L655.5 1375.3L660.0 1376.0L663.8 1376.5L667.0 1376.9L670.0 1377.2L673.0 1377.4L676.2 1377.5L680.0 1377.6L684.5 1377.7L689.6 1377.7L695.0 1377.6L700.4 1377.5L705.5 1377.3L710.0 1377.0L714.0 1376.6L717.8 1376.1L721.2 1375.6L724.4 1375.0L727.4 1374.4L730.0 1374.0L732.1 1373.7L733.7 1373.5L735.0 1373.3L736.3 1373.1L737.9 1372.8L740.0 1372.4L742.8 1371.8L745.9 1371.2L749.4 1370.4L753.0 1369.6L756.6 1368.7L760.0 1367.6L763.3 1366.4L766.7 1365.1L770.0 1363.7L773.3 1362.3L776.7 1360.7L780.0 1359.0L783.3 1357.2L786.7 1355.4L790.0 1353.5L793.3 1351.4L796.7 1349.3L800.0 1347.0L803.4 1344.6L806.8 1342.0L810.2 1339.3L813.6 1336.6L816.9 1333.8L820.0 1331.0L822.9 1328.3L825.7 1325.6L828.4 1322.9L831.0 1320.1L833.5 1317.1L836.0 1314.0L838.5 1310.6L841.0 1307.1L843.4 1303.4L845.7 1299.7L847.9 1295.8L850.0 1292.0L851.9 1288.2L853.8 1284.3L855.5 1280.4L857.1 1276.4L858.6 1272.3L860.0 1268.0L861.3 1263.5L862.6 1258.7L863.8 1253.8L864.8 1248.9L865.7 1244.2L866.5 1240.0L867.1 1236.2L867.5 1232.6L867.7 1229.3L867.9 1226.1L868.0 1223.1L868.0 1220.0L868.0 1217.0L867.9 1214.1L867.7 1211.3L867.5 1208.6L867.2 1205.8L866.8 1203.0L866.4 1200.2L865.9 1197.4L865.4 1194.7L864.8 1191.9L864.2 1189.0L863.5 1186.0L862.7 1182.9L861.9 1179.6L861.0 1176.3L860.1 1172.9L859.1 1169.5L858.0 1166.0L856.8 1162.5L855.6 1158.9L854.3 1155.2L852.9 1151.6L851.5 1147.8L850.0 1144.0L848.4 1140.1L846.8 1136.1L845.1 1132.0L843.4 1127.9L841.7 1123.9L840.0 1120.0L838.3 1116.2L836.7 1112.4L835.0 1108.8L833.3 1105.1L831.7 1101.5L830.0 1098.0L828.3 1094.5L826.7 1091.1L825.0 1087.8L823.3 1084.4L821.7 1081.2L820.0 1078.0L818.4 1074.9L816.7 1071.9L815.1 1069.0L813.5 1066.1L811.8 1063.1L810.0 1060.0L808.1 1056.7L806.1 1053.2L804.1 1049.7L802.1 1046.2L800.0 1043.0L798.0 1040.0L796.0 1037.5L794.0 1035.3L792.0 1033.3L790.1 1031.4L788.0 1029.3L786.0 1027.0L783.9 1024.4L781.8 1021.6L779.7 1018.7L777.6 1015.7L775.4 1012.8L773.3 1010.0L771.2 1007.3L769.1 1004.6L767.0 1001.9L764.8 999.3L762.7 996.7L760.5 994.0L758.2 991.3L755.9 988.5L753.5 985.7L751.1 983.0L748.8 980.4L746.7 978.0L744.7 975.8L742.9 973.7L741.2 971.8L739.5 970.0L737.7 968.2L736.0 966.4L734.2 964.7L732.4 963.1L730.6 961.5L728.9 959.9L727.1 958.4L725.3 956.8L723.5 955.2L721.8 953.6L720.0 951.9L718.2 950.3L716.5 948.7L714.7 947.2L712.9 945.7L711.1 944.2L709.2 942.8L707.4 941.4L705.7 940.0L704.0 938.7L702.4 937.4L701.0 936.2L699.5 935.0L698.2 933.8L696.8 932.5L695.5 931.2L694.2 929.8L692.9 928.5L691.6 927.1L690.3 925.6L689.1 924.0L688.0 922.3L686.9 920.2L685.7 917.8L684.6 915.2L683.6 912.8L682.7 910.8L682.1 909.3L681.2 907.4L680.4 905.5L679.7 903.5L679.0 901.5L678.3 899.5L677.8 897.5L677.2 895.5L676.7 893.4L676.3 891.4L675.9 889.3L675.6 887.2L675.3 885.1L675.1 883.0L675.0 880.9L674.9 878.8L674.8 876.7L674.8 874.6L674.9 872.5L675.0 870.4L675.1 868.4L675.4 866.3L675.6 864.2L676.0 862.1L676.3 860.0L676.8 858.0L677.3 855.9L677.8 853.9L678.4 851.9L679.0 849.9L679.7 847.9L680.5 846.0L681.3 844.0L682.1 842.1L683.0 840.2L684.0 838.3L685.0 836.5L686.0 834.6L687.1 832.8L688.2 831.1L689.4 829.3L690.6 827.6L691.9 826.0L693.2 824.3L694.6 822.7L696.0 821.1L697.4 819.6L698.9 818.1L700.4 816.6L701.9 815.2L703.5 813.8L705.1 812.5L706.8 811.2L708.5 810.0L710.2 808.8L711.9 807.6L713.7 806.5L715.5 805.4L717.4 804.4L719.2 803.4L721.1 802.5L723.0 801.6L724.9 800.8L726.9 800.0" stroke-width="1.95" />
<path d="M575.0 1350.4L548.0 1393.0" stroke-width="1.95" />
<path d="M1236.6 273.8L1235.6 273.9L1234.3 273.9L1232.8 274.0L1231.0 274.1L1229.2 274.2L1227.4 274.4L1225.6 274.6L1224.0 275.0L1222.5 275.5L1221.0 276.0L1219.5 276.6L1218.0 277.2L1216.5 278.0L1215.0 278.7L1213.5 279.6L1212.0 280.4L1210.5 281.3L1208.9 282.3L1207.4 283.3L1205.9 284.3L1204.3 285.4L1202.8 286.5L1201.4 287.7L1200.0 288.8L1198.7 289.9L1197.4 291.1L1196.2 292.3L1195.0 293.5L1193.8 294.7L1192.7 296.0L1191.5 297.2L1190.4 298.4L1189.3 299.6L1188.2 300.8L1187.2 302.0L1186.1 303.2L1185.1 304.4" stroke-width="2.40" stroke-linecap="round"/>
<path d="M1173.6 317.6L1181.6 299.3L1184.2 305.4L1190.7 307.1Z" fill="#000" stroke="#000" stroke-width="0.6"/>
<path d="M284.5 811.5L285.8 811.4L287.5 811.3L289.5 811.2L291.8 811.0L294.1 810.8L296.5 810.5L298.7 810.1L300.8 809.6L302.7 809.0L304.5 808.3L306.3 807.5L308.1 806.6L309.9 805.7L311.6 804.7L313.4 803.6L315.2 802.4L317.0 801.1L318.9 799.7L320.8 798.3L322.7 796.7L324.6 795.1L326.3 793.5L328.0 791.9L329.6 790.4L331.0 788.9L332.4 787.4L333.6 785.8L334.8 784.3L336.0 782.8L337.0 781.3" stroke-width="2.40" stroke-linecap="round"/>
<path d="M346.9 768.3L340.3 786.1L337.6 780.6L331.6 779.4Z" fill="#000" stroke="#000" stroke-width="0.6"/>
<path d="M668.3 1110.0L669.3 1109.9L670.6 1109.9L672.2 1109.8L674.0 1109.7L675.8 1109.6L677.7 1109.4L679.6 1109.1L681.3 1108.7L683.0 1108.2L684.7 1107.6L686.4 1106.9L688.1 1106.2L689.8 1105.4L691.4 1104.5L693.1 1103.6L694.7 1102.7L696.3 1101.7L697.8 1100.6L699.4 1099.5L700.9 1098.3L702.4 1097.1L703.8 1095.8L705.3 1094.6L706.7 1093.3L708.1 1092.1L709.4 1090.9L710.6 1089.7L711.9 1088.4L713.1 1087.1L714.4 1085.8L715.8 1084.3L717.3 1082.7L719.0 1080.8" stroke-width="2.40" stroke-linecap="round"/>
<path d="M731.3 1066.7L721.8 1086.7L719.4 1080.3L712.8 1078.7Z" fill="#000" stroke="#000" stroke-width="0.6"/>
<path d="M404.0 808.6L405.9 809.0L408.3 809.6L411.2 810.4L414.5 811.2L417.9 812.0L421.4 812.7L424.8 813.4L428.0 814.0L431.0 814.5L434.0 814.8L437.0 815.2L440.0 815.5L443.0 815.7L446.0 816.0L449.0 816.1L452.0 816.3L455.0 816.4L458.0 816.5L461.0 816.6L464.0 816.6L467.0 816.5L470.0 816.5L473.0 816.4L476.0 816.3L479.0 816.2L482.1 816.0L485.1 815.8L488.2 815.5L491.2 815.3L494.2 815.0L497.1 814.7L500.0 814.4L502.8 814.1L505.6 813.8L508.4 813.4L511.1 813.1L513.7 812.7L516.4 812.3L519.0 811.9L521.6 811.5L524.3 811.0" stroke-width="2.80" stroke-linecap="round"/>
<path d="M541.5 807.5L522.7 816.9L524.6 810.9L520.5 806.1Z" fill="#000" stroke="#000" stroke-width="0.6"/>
<path d="M1020.4 815.8L1021.6 816.0L1023.1 816.2L1025.0 816.4L1027.1 816.7L1029.3 817.0L1031.6 817.3L1033.8 817.5L1036.0 817.6L1038.1 817.6L1040.3 817.6L1042.6 817.6L1044.8 817.5L1047.1 817.4L1049.4 817.3L1051.7 817.1L1054.0 817.0L1056.2 816.9L1058.4 816.7L1060.5 816.6L1062.6 816.4L1064.8 816.2L1067.1 815.9L1069.5 815.6L1072.0 815.2L1074.7 814.7L1077.6 814.1L1080.6 813.5L1083.6 812.8L1086.7 812.1L1089.9 811.3L1093.0 810.6L1096.0 809.8L1099.0 809.0L1102.1 808.2L1105.3 807.3L1108.4 806.5L1111.4 805.6L1114.4 804.8L1117.3 803.9L1120.0 803.2L1122.5 802.5L1124.9 801.9L1127.1 801.4L1129.3 800.8L1131.4 800.3L1133.5 799.7L1135.7 799.1L1138.0 798.4L1140.5 797.6" stroke-width="2.80" stroke-linecap="round"/>
<path d="M1157.8 791.4L1139.8 803.6L1141.0 797.4L1136.2 793.2Z" fill="#000" stroke="#000" stroke-width="0.6"/>
<path d="M961.3 859.2L961.4 861.0L961.5 863.5L961.6 866.4L961.7 869.6L961.9 873.0L961.9 876.4L962.0 879.7L961.9 882.7L961.8 885.5L961.6 888.2L961.3 890.8L961.0 893.5L960.7 896.1L960.4 898.7L960.0 901.4L959.7 904.0L959.4 906.7L959.0 909.4L958.7 912.2L958.3 915.0L957.9 917.7L957.5 920.3L957.0 922.9L956.5 925.3L955.9 927.6L955.3 929.7L954.7 931.7L954.1 933.6L953.4 935.5L952.7 937.4L951.9 939.3L951.2 941.3L950.5 943.3L949.7 945.3L948.9 947.3L948.1 949.3L947.3 951.3L946.5 953.3L945.7 955.3L944.8 957.3L943.9 959.3L943.1 961.2L942.3 963.1L941.4 965.1L940.5 967.0L939.5 969.0L938.5 971.1L937.3 973.3L935.9 975.7" stroke-width="2.80" stroke-linecap="round"/>
<path d="M925.0 993.0L932.0 970.0L935.5 976.3L942.6 976.6Z" fill="#000" stroke="#000" stroke-width="0.6"/>
</svg>
<div class="t" id="title" style="left:512px;top:111px;font-size:44.1px;-webkit-text-stroke:1px #000;">FIG. 1 (Art antérieur)</div>
<div class="t l" id="r1" style="left:1249px;top:251.6px;word-spacing:-2px;">R 1</div>
<div class="t l" id="r2" style="left:603px;top:1090.8px;word-spacing:2px;">R 2</div>
<div class="t l" id="r3" style="left:222.2px;top:800.4px;word-spacing:2px;">R 3</div>
</body></html>
